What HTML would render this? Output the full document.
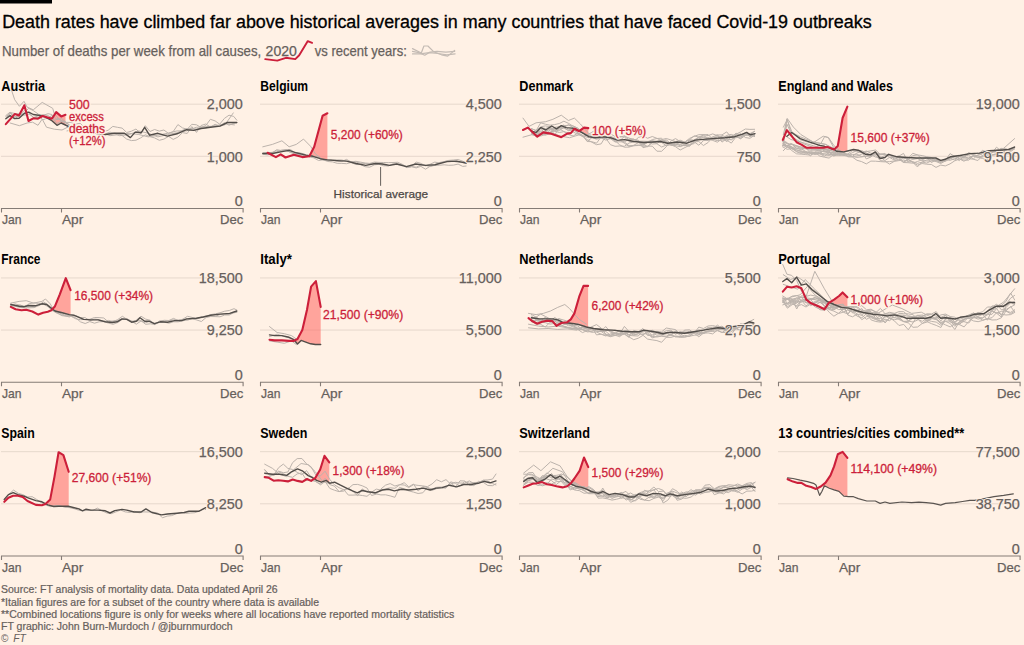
<!DOCTYPE html>
<html><head><meta charset="utf-8"><style>
html,body{margin:0;padding:0;background:#FFF1E5;}
svg{display:block;font-family:"Liberation Sans",sans-serif;}
</style></head><body>
<svg width="1024" height="645" viewBox="0 0 1024 645">
<rect width="1024" height="645" fill="#FFF1E5"/>
<rect x="0" y="0" width="52" height="3.5" fill="#000"/>
<text x="2.2" y="27.5" font-size="17.6" fill="#000000" textLength="869.4" lengthAdjust="spacingAndGlyphs" stroke="#000000" stroke-width="0.3">Death rates have climbed far above historical averages in many countries that have faced Covid-19 outbreaks</text>
<text x="2.0" y="55.9" font-size="14.5" fill="#66605c" textLength="259.3" lengthAdjust="spacingAndGlyphs" stroke="#66605c" stroke-width="0.25">Number of deaths per week from all causes,</text>
<text x="265.6" y="55.9" font-size="14.5" fill="#66605c" textLength="31.3" lengthAdjust="spacingAndGlyphs" stroke="#66605c" stroke-width="0.25">2020</text>
<text x="314.8" y="55.9" font-size="14.5" fill="#66605c" textLength="92.0" lengthAdjust="spacingAndGlyphs" stroke="#66605c" stroke-width="0.25">vs recent years:</text>
<polyline points="265.2,59.1 277.3,60.6 285.9,57.8 295.3,59.1 299.2,55.3 307.8,41.1 312.1,42.8" fill="none" stroke="#cc1f3a" stroke-width="1.9" stroke-linejoin="round" stroke-linecap="round"/>
<polyline points="412.5,48.6 421.3,53.0 423.9,46.0 427.9,46.0 433.6,51.7 441.5,54.8 447.7,56.1 454.7,50.4" fill="none" stroke="#c4bbb4" stroke-width="1.2" stroke-linejoin="round" stroke-linecap="round"/>
<polyline points="412.5,51.3 418.7,52.6 424.8,55.2 430.1,52.1 437.1,51.3 445.9,52.1 454.7,51.3" fill="none" stroke="#c4bbb4" stroke-width="1.2" stroke-linejoin="round" stroke-linecap="round"/>
<polyline points="412.5,53.9 420.4,53.9 429.2,52.6 438.0,53.5 446.8,54.8 455.1,53.9" fill="none" stroke="#c4bbb4" stroke-width="1.2" stroke-linejoin="round" stroke-linecap="round"/>
<text x="1.3" y="90.5" font-size="13.9" font-weight="700" fill="#000000" textLength="43.9" lengthAdjust="spacingAndGlyphs">Austria</text>
<line x1="1" y1="104.19999999999999" x2="243" y2="104.19999999999999" stroke="#e6d8cc" stroke-width="1"/>
<line x1="1" y1="156.29999999999998" x2="243" y2="156.29999999999998" stroke="#e6d8cc" stroke-width="1"/>
<polygon points="52.5,117.9 56.2,112.1 61.2,116.4 65.5,114.8 65.5,125.0 61.2,123.0 56.2,124.6 52.5,121.2" fill="#ff6c68" fill-opacity="0.58"/>
<polyline points="5.8,118.9 10.5,112.6 15.1,113.5 19.8,113.9 24.4,115.2 29.1,114.1 33.7,117.5 38.4,115.7 43.0,119.8 47.7,117.8 52.3,115.4 57.0,119.6 61.6,118.5 66.3,122.4 70.9,122.4 75.6,124.1 80.2,123.3 84.9,127.8 89.5,125.5 94.2,129.0 98.8,130.6 103.5,131.6 108.1,130.3 112.8,126.4 117.4,127.3 122.1,128.1 126.7,132.5 131.4,131.2 136.0,129.0 140.7,133.6 145.3,125.7 150.0,131.5 154.6,129.5 159.3,131.1 163.9,130.0 168.6,133.5 173.2,131.6 177.9,124.6 182.5,127.9 187.2,129.3 191.8,124.3 196.5,124.8 201.1,127.6 205.8,125.5 210.4,119.3 215.1,120.9 219.7,124.2 224.4,118.4 229.0,115.2 233.7,116.4 236.8,120.2" fill="none" stroke="#bcb3ac" stroke-width="1.0" stroke-linejoin="round" stroke-linecap="round"/>
<polyline points="5.8,116.6 10.5,113.5 15.1,118.8 19.8,114.9 24.4,110.4 29.1,112.8 33.7,117.6 38.4,117.4 43.0,114.7 47.7,115.5 52.3,118.2 57.0,123.5 61.6,121.1 66.3,122.8 70.9,126.5 75.6,128.6 80.2,130.1 84.9,128.8 89.5,133.3 94.2,132.1 98.8,135.2 103.5,133.4 108.1,134.0 112.8,132.8 117.4,133.8 122.1,135.5 126.7,139.1 131.4,140.6 136.0,140.2 140.7,137.9 145.3,134.8 150.0,136.7 154.6,137.9 159.3,140.3 163.9,139.1 168.6,136.4 173.2,139.4 177.9,137.1 182.5,132.6 187.2,133.5 191.8,126.6 196.5,132.4 201.1,125.5 205.8,124.0 210.4,127.1 215.1,124.3 219.7,126.1 224.4,122.7 229.0,125.2 233.7,123.4 236.8,122.8" fill="none" stroke="#bcb3ac" stroke-width="1.0" stroke-linejoin="round" stroke-linecap="round"/>
<polyline points="11.6,90.4 14.7,99.7 19.4,106.3 24.0,101.3 27.1,107.1 33.3,109.8 42.2,102.4 52.7,108.3 54.3,113.7 58.9,119.1 63.6,121.4 69.8,125.3" fill="none" stroke="#bcb3ac" stroke-width="1.0" stroke-linejoin="round" stroke-linecap="round"/>
<polyline points="10.1,123.0 19.4,125.7 27.1,123.0 32.6,122.2 38.0,125.3 42.2,119.1 46.5,127.2 54.3,129.2 62.0,130.0 68.2,126.9" fill="none" stroke="#bcb3ac" stroke-width="1.0" stroke-linejoin="round" stroke-linecap="round"/>
<polyline points="5.8,115.6 10.1,112.1 14.3,116.8 19.0,116.0 24.0,112.9 28.7,108.3 33.3,110.6 38.8,114.5 43.4,115.2 48.1,113.7 51.9,114.5 54.3,120.7 58.1,118.3 62.0,121.4 68.2,123.8" fill="none" stroke="#bcb3ac" stroke-width="1.0" stroke-linejoin="round" stroke-linecap="round"/>
<polyline points="67.0,127.3 78.9,130.9 90.9,129.7 100.5,135.7 110.0,132.1 119.6,135.7 129.2,134.5 138.8,130.9 148.3,133.3 157.9,136.9 167.5,134.5 177.0,132.8 186.6,128.5 196.2,129.0 205.7,128.0 215.3,125.6 224.9,124.9 233.3,112.9" fill="none" stroke="#bcb3ac" stroke-width="1.0" stroke-linejoin="round" stroke-linecap="round"/>
<polyline points="67.0,130.9 78.9,128.5 90.9,133.3 100.5,132.1 110.0,135.7 119.6,134.5 129.2,133.3 138.8,134.5 148.3,136.9 157.9,135.2 167.5,133.3 177.0,130.9 186.6,130.9 196.2,127.3 205.7,126.6 215.3,126.1 224.9,123.7 234.4,124.9" fill="none" stroke="#bcb3ac" stroke-width="1.0" stroke-linejoin="round" stroke-linecap="round"/>
<polyline points="5.8,118.7 10.1,115.6 14.3,118.5 19.0,118.3 24.0,113.7 28.7,112.1 33.3,114.5 38.4,115.2 45.0,116.8 51.9,120.7 57.0,125.3 61.2,123.0 68.6,126.5 81.3,128.5 95.7,133.3 105.3,134.5 114.8,133.3 124.4,133.3 130.4,137.6 135.2,132.1 141.1,132.8 144.7,127.3 149.5,135.2 157.9,133.3 167.5,136.1 177.0,133.8 186.6,129.7 193.8,130.4 201.0,128.5 210.5,127.3 220.1,126.1 227.3,122.5 236.8,122.5" fill="none" stroke="#524d49" stroke-width="1.4" stroke-linejoin="round" stroke-linecap="round"/>
<polyline points="5.8,124.1 14.7,114.1 19.0,115.6 24.4,105.3 28.5,121.0 33.3,118.3 38.0,118.7 42.6,116.0 51.9,118.7 56.2,112.1 61.2,116.4 65.5,114.8" fill="none" stroke="#cc1f3a" stroke-width="2.1" stroke-linejoin="round" stroke-linecap="round"/>
<path d="M1.5,212.45 V208.45 H243.1 V212.45 M61.5,208.45 V212.45" fill="none" stroke="#857c76" stroke-width="1.1"/>
<text x="242.7" y="109.4" font-size="14.4" text-anchor="end" fill="#FFF1E5" stroke="#FFF1E5" stroke-width="1.8" stroke-linejoin="round">2,000</text>
<text x="242.7" y="109.4" font-size="14.4" text-anchor="end" fill="#66605c" stroke="#66605c" stroke-width="0.25">2,000</text>
<text x="242.7" y="161.5" font-size="14.4" text-anchor="end" fill="#FFF1E5" stroke="#FFF1E5" stroke-width="1.8" stroke-linejoin="round">1,000</text>
<text x="242.7" y="161.5" font-size="14.4" text-anchor="end" fill="#66605c" stroke="#66605c" stroke-width="0.25">1,000</text>
<text x="242.7" y="206.3" font-size="14.4" text-anchor="end" fill="#FFF1E5" stroke="#FFF1E5" stroke-width="1.8" stroke-linejoin="round">0</text>
<text x="242.7" y="206.3" font-size="14.4" text-anchor="end" fill="#66605c" stroke="#66605c" stroke-width="0.25">0</text>
<text x="2.0" y="224.0" font-size="13.3" fill="#66605c" textLength="19.5" lengthAdjust="spacingAndGlyphs" stroke="#66605c" stroke-width="0.25">Jan</text>
<text x="62.0" y="224.0" font-size="13.3" fill="#66605c" textLength="21.3" lengthAdjust="spacingAndGlyphs" stroke="#66605c" stroke-width="0.25">Apr</text>
<text x="243.3" y="224.0" font-size="13.3" text-anchor="end" fill="#66605c" textLength="23.3" lengthAdjust="spacingAndGlyphs" stroke="#66605c" stroke-width="0.25">Dec</text>
<text x="69.0" y="109.1" font-size="12.3" fill="#FFF1E5" stroke="#FFF1E5" stroke-width="3" stroke-linejoin="round" textLength="20.7" lengthAdjust="spacingAndGlyphs">500</text>
<text x="69.0" y="109.1" font-size="12.3" fill="#cc1f3a" textLength="20.7" lengthAdjust="spacingAndGlyphs" stroke="#cc1f3a" stroke-width="0.3">500</text>
<text x="69.0" y="120.9" font-size="12.3" fill="#FFF1E5" stroke="#FFF1E5" stroke-width="3" stroke-linejoin="round" textLength="34.8" lengthAdjust="spacingAndGlyphs">excess</text>
<text x="69.0" y="120.9" font-size="12.3" fill="#cc1f3a" textLength="34.8" lengthAdjust="spacingAndGlyphs" stroke="#cc1f3a" stroke-width="0.3">excess</text>
<text x="69.0" y="132.8" font-size="12.3" fill="#FFF1E5" stroke="#FFF1E5" stroke-width="3" stroke-linejoin="round" textLength="36.0" lengthAdjust="spacingAndGlyphs">deaths</text>
<text x="69.0" y="132.8" font-size="12.3" fill="#cc1f3a" textLength="36.0" lengthAdjust="spacingAndGlyphs" stroke="#cc1f3a" stroke-width="0.3">deaths</text>
<text x="69.0" y="144.6" font-size="12.3" fill="#FFF1E5" stroke="#FFF1E5" stroke-width="3" stroke-linejoin="round" textLength="36.6" lengthAdjust="spacingAndGlyphs">(+12%)</text>
<text x="69.0" y="144.6" font-size="12.3" fill="#cc1f3a" textLength="36.6" lengthAdjust="spacingAndGlyphs" stroke="#cc1f3a" stroke-width="0.3">(+12%)</text>
<text x="260.3" y="90.5" font-size="13.9" font-weight="700" fill="#000000" textLength="47.8" lengthAdjust="spacingAndGlyphs">Belgium</text>
<line x1="260" y1="104.19999999999999" x2="502" y2="104.19999999999999" stroke="#e6d8cc" stroke-width="1"/>
<line x1="260" y1="156.29999999999998" x2="502" y2="156.29999999999998" stroke="#e6d8cc" stroke-width="1"/>
<polygon points="309.4,156.3 309.4,156.3 314.2,146.8 322.6,115.7 327.4,113.3 327.4,159.9 322.6,159.1 314.2,156.7 309.4,155.7 309.4,155.7" fill="#ff6c68" fill-opacity="0.58"/>
<polyline points="262.8,154.3 267.4,154.8 272.1,154.1 276.7,151.9 281.4,150.1 286.0,149.5 290.7,149.6 295.3,153.3 300.0,152.9 304.6,154.1 309.3,156.9 313.9,157.9 318.6,160.5 323.2,159.8 327.9,161.5 332.5,161.9 337.2,163.3 341.8,163.4 346.5,163.7 351.1,162.5 355.8,164.5 360.4,164.6 365.1,166.7 369.7,167.2 374.4,164.8 379.0,164.3 383.7,165.8 388.3,165.8 393.0,164.3 397.6,164.6 402.3,165.0 406.9,166.9 411.6,166.7 416.2,167.9 420.9,166.4 425.5,169.2 430.2,166.2 434.8,165.4 439.5,165.2 444.1,164.8 448.8,165.3 453.4,165.1 458.1,164.1 462.7,166.4 466.1,166.0" fill="none" stroke="#bcb3ac" stroke-width="1.0" stroke-linejoin="round" stroke-linecap="round"/>
<polyline points="262.8,153.5 267.4,153.4 272.1,153.0 276.7,149.7 281.4,150.6 286.0,150.4 290.7,152.4 295.3,154.0 300.0,154.7 304.6,155.2 309.3,155.4 313.9,156.3 318.6,157.2 323.2,159.7 327.9,160.3 332.5,160.3 337.2,161.2 341.8,161.5 346.5,159.4 351.1,161.9 355.8,161.3 360.4,162.1 365.1,163.0 369.7,163.4 374.4,162.1 379.0,162.4 383.7,162.5 388.3,162.6 393.0,162.5 397.6,162.3 402.3,164.3 406.9,166.9 411.6,166.5 416.2,167.2 420.9,165.0 425.5,165.4 430.2,166.5 434.8,164.8 439.5,162.5 444.1,161.6 448.8,160.4 453.4,160.0 458.1,159.5 462.7,161.2 466.1,162.7" fill="none" stroke="#bcb3ac" stroke-width="1.0" stroke-linejoin="round" stroke-linecap="round"/>
<polyline points="262.8,153.0 267.4,152.7 272.1,152.4 276.7,150.7 281.4,151.4 286.0,150.6 290.7,152.3 295.3,154.3 300.0,155.8 304.6,155.8 309.3,155.9 313.9,156.3 318.6,157.5 323.2,160.1 327.9,159.5 332.5,159.9 337.2,159.9 341.8,160.0 346.5,161.2 351.1,161.5 355.8,162.0 360.4,163.2 365.1,163.5 369.7,163.5 374.4,164.5 379.0,162.8 383.7,165.2 388.3,165.9 393.0,163.8 397.6,163.9 402.3,164.8 406.9,167.7 411.6,166.7 416.2,162.0 420.9,163.4 425.5,165.8 430.2,164.2 434.8,162.1 439.5,163.0 444.1,161.8 448.8,160.5 453.4,161.3 458.1,162.3 462.7,162.6 466.1,163.5" fill="none" stroke="#bcb3ac" stroke-width="1.0" stroke-linejoin="round" stroke-linecap="round"/>
<polyline points="262.8,146.8 272.4,144.4 281.9,140.8 289.1,146.8 296.3,144.4 303.5,139.1 310.6,146.3 315.4,153.9 320.2,157.5" fill="none" stroke="#bcb3ac" stroke-width="1.0" stroke-linejoin="round" stroke-linecap="round"/>
<polyline points="262.8,153.5 272.4,153.5 281.9,151.6 289.1,150.4 296.3,152.8 305.8,155.1 313.0,156.3 320.2,158.7 327.4,159.9 336.9,160.6 346.5,161.1 356.1,163.5 365.7,165.4 375.2,163.5 382.4,164.0 389.6,165.4 396.8,164.0 406.3,166.6 415.9,164.0 425.5,165.4 435.0,164.7 447.0,161.6 456.6,161.1 466.1,163.0" fill="none" stroke="#524d49" stroke-width="1.4" stroke-linejoin="round" stroke-linecap="round"/>
<polyline points="267.6,152.8 275.9,157.1 280.7,154.4 285.5,157.5 293.9,154.7 302.3,157.1 309.4,156.3 314.2,146.8 322.6,115.7 327.4,113.3" fill="none" stroke="#cc1f3a" stroke-width="2.1" stroke-linejoin="round" stroke-linecap="round"/>
<path d="M260.5,212.45 V208.45 H502.1 V212.45 M320.5,208.45 V212.45" fill="none" stroke="#857c76" stroke-width="1.1"/>
<text x="501.7" y="109.4" font-size="14.4" text-anchor="end" fill="#FFF1E5" stroke="#FFF1E5" stroke-width="1.8" stroke-linejoin="round">4,500</text>
<text x="501.7" y="109.4" font-size="14.4" text-anchor="end" fill="#66605c" stroke="#66605c" stroke-width="0.25">4,500</text>
<text x="501.7" y="161.5" font-size="14.4" text-anchor="end" fill="#FFF1E5" stroke="#FFF1E5" stroke-width="1.8" stroke-linejoin="round">2,250</text>
<text x="501.7" y="161.5" font-size="14.4" text-anchor="end" fill="#66605c" stroke="#66605c" stroke-width="0.25">2,250</text>
<text x="501.7" y="206.3" font-size="14.4" text-anchor="end" fill="#FFF1E5" stroke="#FFF1E5" stroke-width="1.8" stroke-linejoin="round">0</text>
<text x="501.7" y="206.3" font-size="14.4" text-anchor="end" fill="#66605c" stroke="#66605c" stroke-width="0.25">0</text>
<text x="261.0" y="224.0" font-size="13.3" fill="#66605c" textLength="19.5" lengthAdjust="spacingAndGlyphs" stroke="#66605c" stroke-width="0.25">Jan</text>
<text x="321.0" y="224.0" font-size="13.3" fill="#66605c" textLength="21.3" lengthAdjust="spacingAndGlyphs" stroke="#66605c" stroke-width="0.25">Apr</text>
<text x="502.3" y="224.0" font-size="13.3" text-anchor="end" fill="#66605c" textLength="23.3" lengthAdjust="spacingAndGlyphs" stroke="#66605c" stroke-width="0.25">Dec</text>
<text x="330.8" y="138.6" font-size="12.3" fill="#FFF1E5" stroke="#FFF1E5" stroke-width="3" stroke-linejoin="round" textLength="72.0" lengthAdjust="spacingAndGlyphs">5,200 (+60%)</text>
<text x="330.8" y="138.6" font-size="12.3" fill="#cc1f3a" textLength="72.0" lengthAdjust="spacingAndGlyphs" stroke="#cc1f3a" stroke-width="0.3">5,200 (+60%)</text>
<line x1="380.6" y1="167" x2="380.6" y2="185.8" stroke="#66605c" stroke-width="1"/>
<text x="333.6" y="198.1" font-size="11.4" fill="#4d4845" textLength="94.5" lengthAdjust="spacingAndGlyphs" stroke="#4d4845" stroke-width="0.25">Historical average</text>
<text x="519.3" y="90.5" font-size="13.9" font-weight="700" fill="#000000" textLength="54.0" lengthAdjust="spacingAndGlyphs">Denmark</text>
<line x1="519" y1="104.19999999999999" x2="761" y2="104.19999999999999" stroke="#e6d8cc" stroke-width="1"/>
<line x1="519" y1="156.29999999999998" x2="761" y2="156.29999999999998" stroke="#e6d8cc" stroke-width="1"/>
<polygon points="575.6,129.4 579.2,131.2 584.0,127.6 588.3,128.1 588.3,136.4 584.0,133.9 579.2,131.0 575.6,128.8" fill="#ff6c68" fill-opacity="0.58"/>
<polyline points="531.4,128.8 536.0,130.3 540.7,127.3 545.3,128.5 550.0,127.1 554.6,135.4 559.3,127.2 563.9,127.8 568.6,130.4 573.2,127.7 577.9,133.0 582.5,135.4 587.2,141.5 591.8,141.7 596.5,143.2 601.1,137.0 605.8,138.6 610.4,136.4 615.1,138.2 619.7,141.0 624.4,136.3 629.0,139.7 633.7,139.3 638.3,141.9 643.0,145.6 647.6,142.3 652.3,144.0 656.9,143.7 661.6,147.0 666.2,145.1 670.9,144.8 675.5,146.7 680.2,150.0 684.8,147.6 689.5,145.3 694.1,140.0 698.8,139.1 703.4,135.1 708.1,139.1 712.7,140.4 717.4,142.2 722.0,138.8 726.7,139.8 731.3,139.5 736.0,134.7 740.6,134.7 745.3,135.5 749.9,134.7 754.6,131.4" fill="none" stroke="#bcb3ac" stroke-width="1.0" stroke-linejoin="round" stroke-linecap="round"/>
<polyline points="531.4,134.2 536.0,132.5 540.7,126.8 545.3,125.9 550.0,126.6 554.6,130.8 559.3,127.9 563.9,124.9 568.6,129.4 573.2,129.3 577.9,130.4 582.5,133.1 587.2,134.6 591.8,137.7 596.5,139.2 601.1,138.0 605.8,140.1 610.4,138.6 615.1,142.0 619.7,141.8 624.4,141.9 629.0,139.2 633.7,139.2 638.3,141.3 643.0,141.2 647.6,141.4 652.3,140.8 656.9,143.6 661.6,140.1 666.2,141.8 670.9,144.8 675.5,144.1 680.2,144.4 684.8,145.8 689.5,140.4 694.1,141.8 698.8,137.3 703.4,140.4 708.1,140.5 712.7,138.8 717.4,140.6 722.0,140.0 726.7,140.1 731.3,143.1 736.0,136.9 740.6,136.9 745.3,134.4 749.9,133.6 754.6,131.3" fill="none" stroke="#bcb3ac" stroke-width="1.0" stroke-linejoin="round" stroke-linecap="round"/>
<polyline points="531.4,132.9 536.0,135.2 540.7,134.0 545.3,135.2 550.0,133.5 554.6,127.4 559.3,126.7 563.9,125.6 568.6,125.3 573.2,125.9 577.9,128.2 582.5,132.5 587.2,135.0 591.8,134.9 596.5,137.1 601.1,135.7 605.8,136.0 610.4,133.8 615.1,136.5 619.7,137.3 624.4,135.8 629.0,138.1 633.7,139.4 638.3,140.2 643.0,147.7 647.6,146.5 652.3,142.5 656.9,141.7 661.6,139.6 666.2,138.5 670.9,139.9 675.5,141.6 680.2,140.2 684.8,142.1 689.5,138.4 694.1,136.4 698.8,134.7 703.4,134.6 708.1,135.6 712.7,133.9 717.4,135.7 722.0,137.8 726.7,136.4 731.3,137.6 736.0,133.2 740.6,135.1 745.3,132.8 749.9,134.4 754.6,136.5" fill="none" stroke="#bcb3ac" stroke-width="1.0" stroke-linejoin="round" stroke-linecap="round"/>
<polyline points="531.4,130.2 536.0,133.6 540.7,130.9 545.3,131.9 550.0,128.0 554.6,129.3 559.3,128.9 563.9,131.5 568.6,134.6 573.2,135.9 577.9,133.2 582.5,136.6 587.2,134.9 591.8,136.7 596.5,133.0 601.1,130.7 605.8,131.9 610.4,136.1 615.1,141.4 619.7,140.1 624.4,142.0 629.0,145.7 633.7,145.7 638.3,145.5 643.0,144.1 647.6,142.3 652.3,140.6 656.9,141.5 661.6,142.4 666.2,145.7 670.9,144.2 675.5,143.5 680.2,145.8 684.8,145.2 689.5,146.3 694.1,141.8 698.8,145.2 703.4,140.7 708.1,138.9 712.7,136.9 717.4,138.2 722.0,136.2 726.7,141.9 731.3,136.7 736.0,137.7 740.6,137.0 745.3,132.8 749.9,136.6 754.6,134.4" fill="none" stroke="#bcb3ac" stroke-width="1.0" stroke-linejoin="round" stroke-linecap="round"/>
<polyline points="531.4,132.2 536.0,134.8 540.7,133.0 545.3,131.6 550.0,129.0 554.6,130.9 559.3,130.7 563.9,127.4 568.6,124.6 573.2,127.9 577.9,131.2 582.5,132.5 587.2,135.1 591.8,136.7 596.5,136.2 601.1,137.3 605.8,133.9 610.4,137.7 615.1,139.9 619.7,139.9 624.4,143.3 629.0,146.5 633.7,145.3 638.3,142.7 643.0,143.9 647.6,142.3 652.3,139.6 656.9,138.5 661.6,138.2 666.2,143.6 670.9,144.9 675.5,145.7 680.2,146.7 684.8,144.9 689.5,144.7 694.1,143.6 698.8,138.6 703.4,137.4 708.1,139.0 712.7,139.8 717.4,135.0 722.0,134.9 726.7,131.9 731.3,137.4 736.0,136.4 740.6,138.6 745.3,133.9 749.9,136.2 754.6,135.2" fill="none" stroke="#bcb3ac" stroke-width="1.0" stroke-linejoin="round" stroke-linecap="round"/>
<polyline points="531.4,128.5 536.0,130.8 540.7,122.8 545.3,124.2 550.0,125.2 554.6,124.6 559.3,123.5 563.9,121.2 568.6,123.4 573.2,126.3 577.9,128.4 582.5,133.1 587.2,134.8 591.8,132.4 596.5,129.2 601.1,133.6 605.8,133.0 610.4,138.6 615.1,139.2 619.7,136.4 624.4,137.1 629.0,141.3 633.7,141.8 638.3,137.5 643.0,135.8 647.6,138.3 652.3,136.5 656.9,138.3 661.6,140.9 666.2,139.8 670.9,143.6 675.5,145.4 680.2,141.4 684.8,142.2 689.5,139.8 694.1,140.1 698.8,136.9 703.4,136.9 708.1,137.4 712.7,139.3 717.4,140.3 722.0,135.4 726.7,137.3 731.3,136.0 736.0,134.2 740.6,131.9 745.3,129.0 749.9,129.4 754.6,129.3" fill="none" stroke="#bcb3ac" stroke-width="1.0" stroke-linejoin="round" stroke-linecap="round"/>
<polyline points="531.4,133.8 536.0,136.3 540.7,131.6 545.3,134.1 550.0,132.0 554.6,131.2 559.3,132.5 563.9,131.6 568.6,133.0 573.2,132.0 577.9,134.3 582.5,136.2 587.2,139.6 591.8,142.2 596.5,144.7 601.1,143.9 605.8,136.1 610.4,138.6 615.1,140.6 619.7,144.9 624.4,147.2 629.0,147.1 633.7,145.7 638.3,145.0 643.0,146.3 647.6,146.1 652.3,146.2 656.9,151.2 661.6,151.3 666.2,146.8 670.9,141.1 675.5,138.6 680.2,141.5 684.8,142.0 689.5,139.7 694.1,135.9 698.8,137.1 703.4,135.0 708.1,134.5 712.7,139.2 717.4,136.5 722.0,138.6 726.7,135.4 731.3,134.4 736.0,136.4 740.6,138.8 745.3,135.5 749.9,133.4 754.6,136.5" fill="none" stroke="#bcb3ac" stroke-width="1.0" stroke-linejoin="round" stroke-linecap="round"/>
<polyline points="531.4,130.5 536.0,135.3 540.7,128.2 545.3,133.9 550.0,130.0 554.6,128.9 559.3,128.9 563.9,127.9 568.6,130.7 573.2,129.8 577.9,133.0 582.5,135.2 587.2,141.3 591.8,137.9 596.5,135.9 601.1,138.2 605.8,138.2 610.4,144.7 615.1,146.3 619.7,146.0 624.4,146.3 629.0,143.0 633.7,142.1 638.3,140.9 643.0,144.3 647.6,146.8 652.3,142.1 656.9,141.0 661.6,140.4 666.2,141.0 670.9,145.2 675.5,144.5 680.2,142.2 684.8,145.0 689.5,145.3 694.1,141.9 698.8,141.5 703.4,145.5 708.1,142.5 712.7,137.1 717.4,134.7 722.0,142.1 726.7,138.7 731.3,139.9 736.0,136.8 740.6,133.4 745.3,137.5 749.9,138.3 754.6,135.2" fill="none" stroke="#bcb3ac" stroke-width="1.0" stroke-linejoin="round" stroke-linecap="round"/>
<polyline points="523.0,118.1 529.0,126.4 536.1,122.8 545.7,121.7 552.9,119.3 561.3,115.2 568.4,120.5 574.4,118.1 580.4,124.0 588.8,133.6" fill="none" stroke="#bcb3ac" stroke-width="1.0" stroke-linejoin="round" stroke-linecap="round"/>
<polyline points="523.0,137.2 531.4,134.8 540.9,136.0 550.5,132.4 560.1,136.0 569.6,137.7 579.2,134.8 588.8,137.7" fill="none" stroke="#bcb3ac" stroke-width="1.0" stroke-linejoin="round" stroke-linecap="round"/>
<polyline points="531.4,131.2 536.1,132.4 540.9,127.6 545.7,130.0 551.7,126.0 556.5,128.8 561.3,125.7 566.0,127.6 572.0,128.1 575.6,128.8 581.6,132.4 588.8,136.7 595.9,137.7 603.1,136.7 610.3,137.7 617.5,140.1 624.7,139.6 634.2,141.5 643.8,142.5 653.4,142.0 660.5,141.5 667.7,143.2 677.3,142.0 686.9,143.2 695.2,140.1 706.0,139.1 715.6,138.4 725.1,137.7 734.7,136.7 741.9,134.3 746.7,132.4 750.3,134.8 755.0,133.6" fill="none" stroke="#524d49" stroke-width="1.4" stroke-linejoin="round" stroke-linecap="round"/>
<polyline points="523.0,130.0 527.8,127.6 537.3,136.7 543.3,132.4 550.5,133.6 561.3,137.2 567.2,133.6 570.8,133.1 574.4,128.8 579.2,131.2 584.0,127.6 588.3,128.1" fill="none" stroke="#cc1f3a" stroke-width="2.1" stroke-linejoin="round" stroke-linecap="round"/>
<path d="M519.5,212.45 V208.45 H761.1 V212.45 M579.5,208.45 V212.45" fill="none" stroke="#857c76" stroke-width="1.1"/>
<text x="760.7" y="109.4" font-size="14.4" text-anchor="end" fill="#FFF1E5" stroke="#FFF1E5" stroke-width="1.8" stroke-linejoin="round">1,500</text>
<text x="760.7" y="109.4" font-size="14.4" text-anchor="end" fill="#66605c" stroke="#66605c" stroke-width="0.25">1,500</text>
<text x="760.7" y="161.5" font-size="14.4" text-anchor="end" fill="#FFF1E5" stroke="#FFF1E5" stroke-width="1.8" stroke-linejoin="round">750</text>
<text x="760.7" y="161.5" font-size="14.4" text-anchor="end" fill="#66605c" stroke="#66605c" stroke-width="0.25">750</text>
<text x="760.7" y="206.3" font-size="14.4" text-anchor="end" fill="#FFF1E5" stroke="#FFF1E5" stroke-width="1.8" stroke-linejoin="round">0</text>
<text x="760.7" y="206.3" font-size="14.4" text-anchor="end" fill="#66605c" stroke="#66605c" stroke-width="0.25">0</text>
<text x="520.0" y="224.0" font-size="13.3" fill="#66605c" textLength="19.5" lengthAdjust="spacingAndGlyphs" stroke="#66605c" stroke-width="0.25">Jan</text>
<text x="580.0" y="224.0" font-size="13.3" fill="#66605c" textLength="21.3" lengthAdjust="spacingAndGlyphs" stroke="#66605c" stroke-width="0.25">Apr</text>
<text x="761.3" y="224.0" font-size="13.3" text-anchor="end" fill="#66605c" textLength="23.3" lengthAdjust="spacingAndGlyphs" stroke="#66605c" stroke-width="0.25">Dec</text>
<text x="591.9" y="135.3" font-size="12.3" fill="#FFF1E5" stroke="#FFF1E5" stroke-width="3" stroke-linejoin="round" textLength="54.3" lengthAdjust="spacingAndGlyphs">100 (+5%)</text>
<text x="591.9" y="135.3" font-size="12.3" fill="#cc1f3a" textLength="54.3" lengthAdjust="spacingAndGlyphs" stroke="#cc1f3a" stroke-width="0.3">100 (+5%)</text>
<text x="778.3" y="90.5" font-size="13.9" font-weight="700" fill="#000000" textLength="114.6" lengthAdjust="spacingAndGlyphs">England and Wales</text>
<line x1="778" y1="104.19999999999999" x2="1020" y2="104.19999999999999" stroke="#e6d8cc" stroke-width="1"/>
<line x1="778" y1="156.29999999999998" x2="1020" y2="156.29999999999998" stroke="#e6d8cc" stroke-width="1"/>
<polygon points="836.5,147.1 837.8,145.9 842.6,118.0 847.4,106.6 847.4,151.0 842.6,151.8 837.8,151.3 836.5,151.2" fill="#ff6c68" fill-opacity="0.58"/>
<polyline points="782.6,143.8 787.2,145.6 791.9,143.9 796.5,148.6 801.2,148.8 805.8,151.5 810.5,153.5 815.1,153.8 819.8,153.6 824.4,150.0 829.1,149.8 833.7,149.2 838.4,153.1 843.0,154.6 847.7,154.1 852.3,156.6 857.0,155.9 861.6,154.3 866.3,151.6 870.9,150.9 875.6,150.0 880.2,154.3 884.9,153.5 889.5,157.6 894.2,157.2 898.8,156.2 903.5,153.4 908.1,161.9 912.8,161.6 917.4,163.4 922.1,162.1 926.7,160.0 931.4,159.5 936.0,160.8 940.7,161.0 945.3,158.9 950.0,157.5 954.6,157.8 959.3,160.6 963.9,156.2 968.6,155.1 973.2,159.2 977.9,160.5 982.5,155.7 987.2,154.2 991.8,155.1 996.5,154.6 1001.1,152.6 1005.8,153.7 1010.4,154.5 1014.6,155.7" fill="none" stroke="#bcb3ac" stroke-width="1.0" stroke-linejoin="round" stroke-linecap="round"/>
<polyline points="782.6,145.1 787.2,147.4 791.9,147.1 796.5,149.9 801.2,151.5 805.8,152.7 810.5,153.3 815.1,154.5 819.8,153.6 824.4,154.9 829.1,155.4 833.7,154.3 838.4,152.1 843.0,152.6 847.7,154.9 852.3,154.6 857.0,154.1 861.6,156.6 866.3,156.1 870.9,156.3 875.6,151.8 880.2,156.6 884.9,160.6 889.5,157.4 894.2,160.0 898.8,160.1 903.5,157.9 908.1,159.0 912.8,162.3 917.4,166.9 922.1,162.0 926.7,163.1 931.4,160.8 936.0,161.5 940.7,163.5 945.3,161.0 950.0,153.6 954.6,156.3 959.3,155.1 963.9,157.3 968.6,152.5 973.2,154.4 977.9,153.0 982.5,155.5 987.2,151.7 991.8,152.1 996.5,151.8 1001.1,152.6 1005.8,150.0 1010.4,149.0 1014.6,146.6" fill="none" stroke="#bcb3ac" stroke-width="1.0" stroke-linejoin="round" stroke-linecap="round"/>
<polyline points="782.6,146.8 787.2,149.3 791.9,148.6 796.5,151.7 801.2,152.3 805.8,153.5 810.5,151.6 815.1,152.4 819.8,156.1 824.4,157.2 829.1,158.1 833.7,154.3 838.4,155.4 843.0,155.1 847.7,154.5 852.3,156.5 857.0,157.4 861.6,156.9 866.3,156.2 870.9,154.4 875.6,157.1 880.2,157.6 884.9,155.6 889.5,154.2 894.2,159.3 898.8,157.6 903.5,161.9 908.1,159.5 912.8,162.3 917.4,165.1 922.1,163.5 926.7,164.2 931.4,164.5 936.0,167.4 940.7,165.1 945.3,165.9 950.0,163.9 954.6,160.9 959.3,159.1 963.9,160.0 968.6,160.2 973.2,156.1 977.9,157.2 982.5,158.5 987.2,160.1 991.8,155.0 996.5,153.6 1001.1,151.0 1005.8,153.2 1010.4,150.2 1014.6,146.6" fill="none" stroke="#bcb3ac" stroke-width="1.0" stroke-linejoin="round" stroke-linecap="round"/>
<polyline points="782.6,140.2 787.2,142.7 791.9,147.4 796.5,146.7 801.2,148.4 805.8,148.8 810.5,150.4 815.1,149.9 819.8,149.5 824.4,148.9 829.1,151.1 833.7,156.0 838.4,154.4 843.0,155.2 847.7,156.2 852.3,156.4 857.0,152.9 861.6,151.7 866.3,158.9 870.9,157.0 875.6,153.0 880.2,153.8 884.9,154.4 889.5,154.5 894.2,158.3 898.8,157.0 903.5,162.3 908.1,159.4 912.8,155.7 917.4,154.9 922.1,155.6 926.7,156.7 931.4,157.5 936.0,160.3 940.7,162.1 945.3,159.6 950.0,159.1 954.6,156.1 959.3,158.8 963.9,161.2 968.6,158.8 973.2,159.1 977.9,154.8 982.5,150.4 987.2,152.1 991.8,155.3 996.5,154.1 1001.1,150.5 1005.8,153.1 1010.4,154.2 1014.6,152.0" fill="none" stroke="#bcb3ac" stroke-width="1.0" stroke-linejoin="round" stroke-linecap="round"/>
<polyline points="782.6,145.5 787.2,145.6 791.9,147.0 796.5,151.7 801.2,153.5 805.8,152.0 810.5,155.8 815.1,152.1 819.8,151.9 824.4,151.2 829.1,151.8 833.7,153.3 838.4,151.1 843.0,151.7 847.7,156.8 852.3,157.0 857.0,160.3 861.6,161.6 866.3,163.9 870.9,161.1 875.6,161.2 880.2,161.6 884.9,161.9 889.5,161.6 894.2,161.0 898.8,159.1 903.5,162.5 908.1,162.7 912.8,163.2 917.4,161.5 922.1,159.8 926.7,157.8 931.4,162.6 936.0,159.8 940.7,160.7 945.3,161.4 950.0,158.6 954.6,156.6 959.3,158.1 963.9,158.0 968.6,158.3 973.2,155.4 977.9,157.8 982.5,156.9 987.2,156.0 991.8,153.4 996.5,147.2 1001.1,150.9 1005.8,153.0 1010.4,150.3 1014.6,147.6" fill="none" stroke="#bcb3ac" stroke-width="1.0" stroke-linejoin="round" stroke-linecap="round"/>
<polyline points="782.6,141.7 787.2,143.5 791.9,148.7 796.5,148.0 801.2,149.9 805.8,147.7 810.5,153.4 815.1,153.3 819.8,153.8 824.4,156.3 829.1,152.6 833.7,155.8 838.4,153.4 843.0,153.3 847.7,154.0 852.3,150.7 857.0,151.2 861.6,152.8 866.3,151.0 870.9,153.2 875.6,154.3 880.2,154.7 884.9,154.4 889.5,155.6 894.2,156.9 898.8,156.1 903.5,158.6 908.1,158.3 912.8,153.3 917.4,154.9 922.1,158.9 926.7,157.5 931.4,159.7 936.0,160.4 940.7,162.6 945.3,159.6 950.0,158.3 954.6,160.0 959.3,156.5 963.9,156.9 968.6,158.0 973.2,156.1 977.9,155.4 982.5,153.6 987.2,152.7 991.8,150.8 996.5,150.8 1001.1,149.5 1005.8,152.9 1010.4,151.7 1014.6,148.9" fill="none" stroke="#bcb3ac" stroke-width="1.0" stroke-linejoin="round" stroke-linecap="round"/>
<polyline points="782.6,140.8 787.2,146.6 791.9,150.6 796.5,153.8 801.2,154.2 805.8,154.6 810.5,155.1 815.1,151.9 819.8,152.8 824.4,150.2 829.1,154.6 833.7,154.3 838.4,153.6 843.0,154.9 847.7,155.1 852.3,152.7 857.0,150.6 861.6,150.6 866.3,152.9 870.9,155.3 875.6,155.1 880.2,160.6 884.9,161.1 889.5,164.1 894.2,161.4 898.8,160.6 903.5,160.1 908.1,161.2 912.8,159.4 917.4,158.6 922.1,160.5 926.7,161.0 931.4,161.1 936.0,159.1 940.7,161.7 945.3,159.7 950.0,160.3 954.6,158.8 959.3,156.5 963.9,157.7 968.6,153.6 973.2,154.5 977.9,156.1 982.5,157.0 987.2,152.3 991.8,152.2 996.5,151.4 1001.1,148.4 1005.8,148.7 1010.4,150.4 1014.6,148.8" fill="none" stroke="#bcb3ac" stroke-width="1.0" stroke-linejoin="round" stroke-linecap="round"/>
<polyline points="783.3,145.9 786.9,119.2 791.7,131.3 800.2,139.8 812.3,143.4 823.2,136.2 828.1,137.4 834.1,148.3 841.4,153.1 848.7,150.7" fill="none" stroke="#bcb3ac" stroke-width="1.0" stroke-linejoin="round" stroke-linecap="round"/>
<polyline points="783.3,142.2 786.9,124.1 793.0,137.4 802.6,143.4 812.3,147.1 824.4,149.5 834.1,151.2" fill="none" stroke="#bcb3ac" stroke-width="1.0" stroke-linejoin="round" stroke-linecap="round"/>
<polyline points="783.3,150.7 790.5,143.4 800.2,147.1 812.3,149.5 824.4,151.9 834.1,153.1" fill="none" stroke="#bcb3ac" stroke-width="1.0" stroke-linejoin="round" stroke-linecap="round"/>
<polyline points="994.0,150.7 1003.7,148.3 1014.6,138.6" fill="none" stroke="#bcb3ac" stroke-width="1.0" stroke-linejoin="round" stroke-linecap="round"/>
<polyline points="783.4,127.1 787.2,119.6 790.9,132.0 800.8,137.0 813.2,142.0 825.6,144.4 835.6,149.4" fill="none" stroke="#bcb3ac" stroke-width="1.0" stroke-linejoin="round" stroke-linecap="round"/>
<polyline points="783.4,134.5 790.9,139.5 800.8,142.0 813.2,145.7 825.6,149.4 835.6,151.9" fill="none" stroke="#bcb3ac" stroke-width="1.0" stroke-linejoin="round" stroke-linecap="round"/>
<polyline points="783.4,142.0 790.9,144.4 800.8,146.9 813.2,148.9 825.6,151.9 838.0,153.1" fill="none" stroke="#bcb3ac" stroke-width="1.0" stroke-linejoin="round" stroke-linecap="round"/>
<polyline points="783.4,144.4 793.4,149.4 805.8,151.9 818.2,153.1 830.6,154.4 840.5,154.9" fill="none" stroke="#bcb3ac" stroke-width="1.0" stroke-linejoin="round" stroke-linecap="round"/>
<polyline points="783.4,134.5 787.2,118.4 793.4,127.1 800.8,134.5 813.2,142.0 825.6,144.4 835.6,149.9" fill="none" stroke="#bcb3ac" stroke-width="1.0" stroke-linejoin="round" stroke-linecap="round"/>
<polyline points="815.5,147.7 820.8,143.7 824.7,136.5 828.7,137.8 834.0,145.7 839.2,150.3 844.5,153.0" fill="none" stroke="#bcb3ac" stroke-width="1.0" stroke-linejoin="round" stroke-linecap="round"/>
<polyline points="786.9,136.2 791.7,132.5 800.2,138.6 809.9,142.2 819.6,145.4 824.4,146.3 834.1,149.5 836.5,151.2 843.8,151.9 853.5,149.5 858.3,150.2 865.6,154.3 870.5,154.8 875.3,151.9 880.1,158.5 885.0,157.5 888.6,154.3 897.1,156.8 906.8,157.5 916.5,158.0 926.2,158.0 935.8,158.0 940.7,160.4 945.5,159.2 950.4,156.8 960.1,155.5 969.8,153.6 979.4,153.1 989.1,150.7 998.8,150.2 1008.5,149.5 1014.6,147.1" fill="none" stroke="#524d49" stroke-width="1.4" stroke-linejoin="round" stroke-linecap="round"/>
<polyline points="782.8,139.8 786.9,130.1 791.7,136.2 796.6,142.2 801.4,144.6 806.3,147.6 814.8,147.8 823.2,147.8 828.1,147.1 834.1,149.5 837.8,145.9 842.6,118.0 847.4,106.6" fill="none" stroke="#cc1f3a" stroke-width="2.1" stroke-linejoin="round" stroke-linecap="round"/>
<path d="M778.5,212.45 V208.45 H1020.1 V212.45 M838.5,208.45 V212.45" fill="none" stroke="#857c76" stroke-width="1.1"/>
<text x="1019.7" y="109.4" font-size="14.4" text-anchor="end" fill="#FFF1E5" stroke="#FFF1E5" stroke-width="1.8" stroke-linejoin="round">19,000</text>
<text x="1019.7" y="109.4" font-size="14.4" text-anchor="end" fill="#66605c" stroke="#66605c" stroke-width="0.25">19,000</text>
<text x="1019.7" y="161.5" font-size="14.4" text-anchor="end" fill="#FFF1E5" stroke="#FFF1E5" stroke-width="1.8" stroke-linejoin="round">9,500</text>
<text x="1019.7" y="161.5" font-size="14.4" text-anchor="end" fill="#66605c" stroke="#66605c" stroke-width="0.25">9,500</text>
<text x="1019.7" y="206.3" font-size="14.4" text-anchor="end" fill="#FFF1E5" stroke="#FFF1E5" stroke-width="1.8" stroke-linejoin="round">0</text>
<text x="1019.7" y="206.3" font-size="14.4" text-anchor="end" fill="#66605c" stroke="#66605c" stroke-width="0.25">0</text>
<text x="779.0" y="224.0" font-size="13.3" fill="#66605c" textLength="19.5" lengthAdjust="spacingAndGlyphs" stroke="#66605c" stroke-width="0.25">Jan</text>
<text x="839.0" y="224.0" font-size="13.3" fill="#66605c" textLength="21.3" lengthAdjust="spacingAndGlyphs" stroke="#66605c" stroke-width="0.25">Apr</text>
<text x="1020.3" y="224.0" font-size="13.3" text-anchor="end" fill="#66605c" textLength="23.3" lengthAdjust="spacingAndGlyphs" stroke="#66605c" stroke-width="0.25">Dec</text>
<text x="850.6" y="141.5" font-size="12.3" fill="#FFF1E5" stroke="#FFF1E5" stroke-width="3" stroke-linejoin="round" textLength="79.2" lengthAdjust="spacingAndGlyphs">15,600 (+37%)</text>
<text x="850.6" y="141.5" font-size="12.3" fill="#cc1f3a" textLength="79.2" lengthAdjust="spacingAndGlyphs" stroke="#cc1f3a" stroke-width="0.3">15,600 (+37%)</text>
<text x="1.3" y="264.3" font-size="13.9" font-weight="700" fill="#000000" textLength="39.2" lengthAdjust="spacingAndGlyphs">France</text>
<line x1="1" y1="277.95" x2="243" y2="277.95" stroke="#e6d8cc" stroke-width="1"/>
<line x1="1" y1="330.05" x2="243" y2="330.05" stroke="#e6d8cc" stroke-width="1"/>
<polygon points="52.2,309.4 55.0,306.2 59.8,294.3 65.8,278.2 70.6,290.2 70.6,314.8 65.8,313.6 59.8,312.1 55.0,311.0 52.2,308.9" fill="#ff6c68" fill-opacity="0.58"/>
<polyline points="10.8,305.1 15.4,303.9 20.1,305.5 24.7,306.5 29.4,303.6 34.0,302.9 38.7,303.4 43.3,304.1 48.0,306.6 52.6,310.8 57.3,313.1 61.9,315.7 66.6,316.1 71.2,315.9 75.9,318.0 80.5,321.9 85.2,323.5 89.8,321.6 94.5,323.2 99.1,321.8 103.8,321.6 108.4,323.1 113.1,324.3 117.7,322.5 122.4,319.3 127.0,319.4 131.7,321.1 136.3,321.0 141.0,320.6 145.6,324.3 150.3,323.8 154.9,324.4 159.6,322.1 164.2,322.1 168.9,323.2 173.5,321.8 178.2,321.8 182.8,320.8 187.5,319.6 192.1,318.7 196.8,318.7 201.4,316.9 206.1,316.1 210.7,316.1 215.4,316.4 220.0,314.5 224.7,314.1 229.3,314.5 234.0,312.8 236.8,312.3" fill="none" stroke="#bcb3ac" stroke-width="1.0" stroke-linejoin="round" stroke-linecap="round"/>
<polyline points="10.8,304.0 15.4,305.9 20.1,304.9 24.7,306.7 29.4,307.0 34.0,306.3 38.7,305.3 43.3,301.9 48.0,304.7 52.6,310.0 57.3,312.0 61.9,314.1 66.6,315.7 71.2,316.1 75.9,315.7 80.5,317.6 85.2,317.6 89.8,320.8 94.5,319.0 99.1,319.7 103.8,321.6 108.4,320.4 113.1,321.7 117.7,319.6 122.4,316.3 127.0,319.4 131.7,322.2 136.3,320.2 141.0,316.2 145.6,319.1 150.3,320.3 154.9,324.7 159.6,321.2 164.2,320.3 168.9,320.5 173.5,318.4 178.2,320.5 182.8,319.2 187.5,316.3 192.1,317.4 196.8,318.6 201.4,317.3 206.1,316.4 210.7,314.6 215.4,313.8 220.0,312.8 224.7,311.2 229.3,310.5 234.0,308.7 236.8,310.0" fill="none" stroke="#bcb3ac" stroke-width="1.0" stroke-linejoin="round" stroke-linecap="round"/>
<polyline points="10.8,305.7 15.4,306.3 20.1,307.5 24.7,307.9 29.4,307.8 34.0,307.6 38.7,305.7 43.3,303.5 48.0,304.9 52.6,309.0 57.3,311.8 61.9,312.4 66.6,314.7 71.2,316.4 75.9,318.9 80.5,319.7 85.2,319.4 89.8,319.3 94.5,317.5 99.1,317.6 103.8,318.0 108.4,322.0 113.1,320.9 117.7,320.4 122.4,319.1 127.0,318.8 131.7,321.2 136.3,324.2 141.0,321.0 145.6,322.8 150.3,321.1 154.9,323.9 159.6,321.1 164.2,321.3 168.9,320.7 173.5,319.8 178.2,320.0 182.8,319.6 187.5,320.2 192.1,318.6 196.8,320.0 201.4,321.5 206.1,317.5 210.7,316.5 215.4,316.6 220.0,316.8 224.7,315.0 229.3,315.0 234.0,312.0 236.8,312.0" fill="none" stroke="#bcb3ac" stroke-width="1.0" stroke-linejoin="round" stroke-linecap="round"/>
<polyline points="10.8,303.1 19.1,301.4 26.3,300.7 33.5,303.1 41.9,301.4 45.5,299.0 50.2,303.8 55.0,312.2 62.2,315.1 69.4,317.0" fill="none" stroke="#bcb3ac" stroke-width="1.0" stroke-linejoin="round" stroke-linecap="round"/>
<polyline points="10.8,304.5 19.1,306.2 23.9,306.7 28.7,305.5 35.9,305.7 41.9,303.8 46.7,304.5 50.2,307.4 55.0,311.0 62.2,312.7 69.4,314.6 74.2,315.3 83.7,319.4 90.9,319.9 98.1,319.9 105.3,321.8 112.4,322.5 117.2,321.8 122.0,318.9 126.8,319.4 131.6,322.2 136.4,321.3 140.0,317.7 144.7,321.3 149.5,321.3 154.3,323.7 160.3,321.8 167.5,322.2 174.6,320.6 181.8,320.6 186.6,318.9 196.2,318.2 203.3,317.0 210.5,315.3 220.1,314.1 229.7,313.4 236.8,311.0" fill="none" stroke="#524d49" stroke-width="1.4" stroke-linejoin="round" stroke-linecap="round"/>
<polyline points="10.8,306.9 15.6,309.3 21.5,310.3 26.3,309.8 32.3,311.5 38.3,314.6 43.1,312.7 47.8,311.7 51.4,310.3 55.0,306.2 59.8,294.3 65.8,278.2 70.6,290.2" fill="none" stroke="#cc1f3a" stroke-width="2.1" stroke-linejoin="round" stroke-linecap="round"/>
<path d="M1.5,386.2 V382.2 H243.1 V386.2 M61.5,382.2 V386.2" fill="none" stroke="#857c76" stroke-width="1.1"/>
<text x="242.7" y="283.1" font-size="14.4" text-anchor="end" fill="#FFF1E5" stroke="#FFF1E5" stroke-width="1.8" stroke-linejoin="round">18,500</text>
<text x="242.7" y="283.1" font-size="14.4" text-anchor="end" fill="#66605c" stroke="#66605c" stroke-width="0.25">18,500</text>
<text x="242.7" y="335.2" font-size="14.4" text-anchor="end" fill="#FFF1E5" stroke="#FFF1E5" stroke-width="1.8" stroke-linejoin="round">9,250</text>
<text x="242.7" y="335.2" font-size="14.4" text-anchor="end" fill="#66605c" stroke="#66605c" stroke-width="0.25">9,250</text>
<text x="242.7" y="380.1" font-size="14.4" text-anchor="end" fill="#FFF1E5" stroke="#FFF1E5" stroke-width="1.8" stroke-linejoin="round">0</text>
<text x="242.7" y="380.1" font-size="14.4" text-anchor="end" fill="#66605c" stroke="#66605c" stroke-width="0.25">0</text>
<text x="2.0" y="397.8" font-size="13.3" fill="#66605c" textLength="19.5" lengthAdjust="spacingAndGlyphs" stroke="#66605c" stroke-width="0.25">Jan</text>
<text x="62.0" y="397.8" font-size="13.3" fill="#66605c" textLength="21.3" lengthAdjust="spacingAndGlyphs" stroke="#66605c" stroke-width="0.25">Apr</text>
<text x="243.3" y="397.8" font-size="13.3" text-anchor="end" fill="#66605c" textLength="23.3" lengthAdjust="spacingAndGlyphs" stroke="#66605c" stroke-width="0.25">Dec</text>
<text x="74.2" y="299.5" font-size="12.3" fill="#FFF1E5" stroke="#FFF1E5" stroke-width="3" stroke-linejoin="round" textLength="78.9" lengthAdjust="spacingAndGlyphs">16,500 (+34%)</text>
<text x="74.2" y="299.5" font-size="12.3" fill="#cc1f3a" textLength="78.9" lengthAdjust="spacingAndGlyphs" stroke="#cc1f3a" stroke-width="0.3">16,500 (+34%)</text>
<text x="260.3" y="264.3" font-size="13.9" font-weight="700" fill="#000000" textLength="31.6" lengthAdjust="spacingAndGlyphs">Italy*</text>
<line x1="260" y1="277.95" x2="502" y2="277.95" stroke="#e6d8cc" stroke-width="1"/>
<line x1="260" y1="330.05" x2="502" y2="330.05" stroke="#e6d8cc" stroke-width="1"/>
<polygon points="295.8,339.9 297.5,339.0 302.3,330.1 307.0,309.8 311.1,286.6 315.9,281.1 320.7,306.9 320.7,344.5 315.9,344.5 311.1,343.9 307.0,342.5 302.3,340.8 297.5,344.0 295.8,342.0" fill="#ff6c68" fill-opacity="0.58"/>
<polyline points="269.5,326.6 277.1,332.5 284.3,333.7 291.5,335.6 296.3,339.0" fill="none" stroke="#bcb3ac" stroke-width="1.0" stroke-linejoin="round" stroke-linecap="round"/>
<polyline points="269.5,340.9 277.1,342.1 284.3,343.3 291.5,340.9 296.3,344.5" fill="none" stroke="#bcb3ac" stroke-width="1.0" stroke-linejoin="round" stroke-linecap="round"/>
<polyline points="269.5,336.6 277.1,334.2 284.3,336.6 291.5,338.5 296.3,342.1" fill="none" stroke="#bcb3ac" stroke-width="1.0" stroke-linejoin="round" stroke-linecap="round"/>
<polyline points="269.5,334.9 274.7,335.6 281.9,335.6 289.1,337.3 293.9,339.7 297.5,344.0 301.1,340.4 305.8,342.1 310.6,343.8 315.4,344.5 320.7,344.5" fill="none" stroke="#524d49" stroke-width="1.4" stroke-linejoin="round" stroke-linecap="round"/>
<polyline points="269.5,339.7 274.7,340.4 281.9,340.4 289.1,340.9 293.9,340.9 297.5,339.0 302.3,330.1 307.0,309.8 311.1,286.6 315.9,281.1 320.7,306.9" fill="none" stroke="#cc1f3a" stroke-width="2.1" stroke-linejoin="round" stroke-linecap="round"/>
<path d="M260.5,386.2 V382.2 H502.1 V386.2 M320.5,382.2 V386.2" fill="none" stroke="#857c76" stroke-width="1.1"/>
<text x="501.7" y="283.1" font-size="14.4" text-anchor="end" fill="#FFF1E5" stroke="#FFF1E5" stroke-width="1.8" stroke-linejoin="round">11,000</text>
<text x="501.7" y="283.1" font-size="14.4" text-anchor="end" fill="#66605c" stroke="#66605c" stroke-width="0.25">11,000</text>
<text x="501.7" y="335.2" font-size="14.4" text-anchor="end" fill="#FFF1E5" stroke="#FFF1E5" stroke-width="1.8" stroke-linejoin="round">5,500</text>
<text x="501.7" y="335.2" font-size="14.4" text-anchor="end" fill="#66605c" stroke="#66605c" stroke-width="0.25">5,500</text>
<text x="501.7" y="380.1" font-size="14.4" text-anchor="end" fill="#FFF1E5" stroke="#FFF1E5" stroke-width="1.8" stroke-linejoin="round">0</text>
<text x="501.7" y="380.1" font-size="14.4" text-anchor="end" fill="#66605c" stroke="#66605c" stroke-width="0.25">0</text>
<text x="261.0" y="397.8" font-size="13.3" fill="#66605c" textLength="19.5" lengthAdjust="spacingAndGlyphs" stroke="#66605c" stroke-width="0.25">Jan</text>
<text x="321.0" y="397.8" font-size="13.3" fill="#66605c" textLength="21.3" lengthAdjust="spacingAndGlyphs" stroke="#66605c" stroke-width="0.25">Apr</text>
<text x="502.3" y="397.8" font-size="13.3" text-anchor="end" fill="#66605c" textLength="23.3" lengthAdjust="spacingAndGlyphs" stroke="#66605c" stroke-width="0.25">Dec</text>
<text x="323.1" y="318.5" font-size="12.3" fill="#FFF1E5" stroke="#FFF1E5" stroke-width="3" stroke-linejoin="round" textLength="80.1" lengthAdjust="spacingAndGlyphs">21,500 (+90%)</text>
<text x="323.1" y="318.5" font-size="12.3" fill="#cc1f3a" textLength="80.1" lengthAdjust="spacingAndGlyphs" stroke="#cc1f3a" stroke-width="0.3">21,500 (+90%)</text>
<text x="519.3" y="264.3" font-size="13.9" font-weight="700" fill="#000000" textLength="74.2" lengthAdjust="spacingAndGlyphs">Netherlands</text>
<line x1="519" y1="277.95" x2="761" y2="277.95" stroke="#e6d8cc" stroke-width="1"/>
<line x1="519" y1="330.05" x2="761" y2="330.05" stroke="#e6d8cc" stroke-width="1"/>
<polygon points="568.4,321.3 570.8,319.4 574.4,313.4 579.2,296.7 583.5,285.9 588.1,285.9 588.1,327.4 583.5,326.1 579.2,324.6 574.4,323.7 570.8,323.3 568.4,323.0" fill="#ff6c68" fill-opacity="0.58"/>
<polyline points="531.4,319.5 536.0,322.5 540.7,321.1 545.3,320.4 550.0,319.2 554.6,320.4 559.3,321.7 563.9,323.1 568.6,325.8 573.2,325.7 577.9,328.8 582.5,329.5 587.2,331.9 591.8,331.5 596.5,329.0 601.1,328.7 605.8,329.8 610.4,331.3 615.1,330.0 619.7,331.7 624.4,331.5 629.0,334.7 633.7,332.8 638.3,331.7 643.0,328.5 647.6,335.5 652.3,334.9 656.9,332.8 661.6,333.0 666.2,330.8 670.9,330.2 675.5,334.3 680.2,331.5 684.8,333.2 689.5,332.9 694.1,331.8 698.8,334.4 703.4,332.5 708.1,331.0 712.7,329.0 717.4,329.8 722.0,329.2 726.7,330.1 731.3,329.2 736.0,326.7 740.6,327.1 745.3,325.5 749.9,322.1 753.8,326.6" fill="none" stroke="#bcb3ac" stroke-width="1.0" stroke-linejoin="round" stroke-linecap="round"/>
<polyline points="531.4,314.4 536.0,317.1 540.7,319.9 545.3,321.7 550.0,321.1 554.6,323.5 559.3,322.7 563.9,324.1 568.6,323.6 573.2,326.0 577.9,323.5 582.5,326.9 587.2,329.4 591.8,330.0 596.5,330.6 601.1,331.5 605.8,331.4 610.4,335.3 615.1,333.7 619.7,333.2 624.4,334.2 629.0,337.3 633.7,330.4 638.3,331.6 643.0,330.7 647.6,331.0 652.3,332.1 656.9,331.4 661.6,331.9 666.2,328.0 670.9,328.8 675.5,329.6 680.2,333.9 684.8,330.1 689.5,329.8 694.1,333.3 698.8,327.1 703.4,328.5 708.1,326.0 712.7,325.6 717.4,326.7 722.0,328.4 726.7,330.8 731.3,334.7 736.0,328.1 740.6,326.7 745.3,325.7 749.9,321.3 753.8,319.4" fill="none" stroke="#bcb3ac" stroke-width="1.0" stroke-linejoin="round" stroke-linecap="round"/>
<polyline points="531.4,320.3 536.0,320.5 540.7,321.0 545.3,317.4 550.0,320.1 554.6,319.6 559.3,320.4 563.9,324.2 568.6,324.5 573.2,327.2 577.9,327.9 582.5,328.2 587.2,328.1 591.8,327.3 596.5,334.9 601.1,334.2 605.8,336.0 610.4,333.9 615.1,333.2 619.7,334.7 624.4,333.3 629.0,332.3 633.7,334.8 638.3,333.7 643.0,334.7 647.6,332.6 652.3,330.3 656.9,332.3 661.6,334.9 666.2,333.9 670.9,331.3 675.5,332.8 680.2,332.1 684.8,332.3 689.5,331.4 694.1,332.1 698.8,329.7 703.4,330.6 708.1,327.5 712.7,329.3 717.4,328.3 722.0,327.2 726.7,331.8 731.3,329.2 736.0,328.5 740.6,330.4 745.3,327.6 749.9,325.2 753.8,326.5" fill="none" stroke="#bcb3ac" stroke-width="1.0" stroke-linejoin="round" stroke-linecap="round"/>
<polyline points="531.4,321.6 536.0,323.3 540.7,324.4 545.3,326.9 550.0,322.4 554.6,320.9 559.3,324.1 563.9,326.2 568.6,327.7 573.2,328.5 577.9,328.9 582.5,327.1 587.2,328.5 591.8,327.7 596.5,329.3 601.1,330.7 605.8,326.6 610.4,332.2 615.1,333.1 619.7,330.8 624.4,333.6 629.0,336.9 633.7,339.7 638.3,338.2 643.0,335.3 647.6,339.1 652.3,339.9 656.9,340.6 661.6,342.3 666.2,337.3 670.9,337.4 675.5,336.0 680.2,336.5 684.8,336.7 689.5,336.3 694.1,335.2 698.8,334.9 703.4,332.3 708.1,331.0 712.7,331.5 717.4,330.7 722.0,332.4 726.7,332.5 731.3,331.7 736.0,328.8 740.6,326.3 745.3,327.2 749.9,323.0 753.8,327.6" fill="none" stroke="#bcb3ac" stroke-width="1.0" stroke-linejoin="round" stroke-linecap="round"/>
<polyline points="531.4,317.9 536.0,319.0 540.7,319.4 545.3,317.9 550.0,321.6 554.6,317.5 559.3,320.3 563.9,323.7 568.6,324.0 573.2,325.5 577.9,324.9 582.5,325.3 587.2,327.3 591.8,328.8 596.5,328.5 601.1,328.8 605.8,330.1 610.4,330.8 615.1,333.0 619.7,333.7 624.4,330.6 629.0,331.2 633.7,332.9 638.3,332.6 643.0,333.0 647.6,334.3 652.3,336.9 656.9,332.8 661.6,334.3 666.2,333.0 670.9,335.4 675.5,331.6 680.2,335.3 684.8,332.6 689.5,333.7 694.1,332.6 698.8,333.9 703.4,330.3 708.1,328.0 712.7,327.3 717.4,327.2 722.0,326.2 726.7,329.6 731.3,329.0 736.0,327.5 740.6,330.7 745.3,329.0 749.9,325.4 753.8,324.4" fill="none" stroke="#bcb3ac" stroke-width="1.0" stroke-linejoin="round" stroke-linecap="round"/>
<polyline points="531.4,316.0 536.0,319.8 540.7,321.0 545.3,320.2 550.0,320.4 554.6,320.1 559.3,318.8 563.9,320.1 568.6,321.6 573.2,325.7 577.9,326.0 582.5,329.7 587.2,331.1 591.8,328.8 596.5,331.6 601.1,331.4 605.8,334.7 610.4,335.3 615.1,333.8 619.7,335.6 624.4,334.0 629.0,332.3 633.7,333.5 638.3,331.5 643.0,331.6 647.6,330.1 652.3,336.3 656.9,337.0 661.6,336.1 666.2,336.2 670.9,334.3 675.5,336.9 680.2,336.3 684.8,335.3 689.5,336.2 694.1,333.0 698.8,336.8 703.4,333.2 708.1,332.9 712.7,333.9 717.4,330.1 722.0,332.5 726.7,329.6 731.3,329.2 736.0,326.2 740.6,326.8 745.3,324.8 749.9,321.7 753.8,324.6" fill="none" stroke="#bcb3ac" stroke-width="1.0" stroke-linejoin="round" stroke-linecap="round"/>
<polyline points="531.4,320.3 536.0,324.3 540.7,322.0 545.3,322.7 550.0,324.1 554.6,323.4 559.3,325.5 563.9,326.4 568.6,327.7 573.2,328.6 577.9,329.5 582.5,332.6 587.2,330.6 591.8,332.3 596.5,332.0 601.1,334.2 605.8,335.3 610.4,336.7 615.1,335.2 619.7,336.7 624.4,332.4 629.0,335.4 633.7,335.8 638.3,336.0 643.0,330.4 647.6,332.8 652.3,338.0 656.9,336.3 661.6,336.0 666.2,337.0 670.9,334.7 675.5,331.0 680.2,333.4 684.8,331.8 689.5,334.4 694.1,332.7 698.8,331.8 703.4,333.4 708.1,331.4 712.7,330.7 717.4,328.2 722.0,329.1 726.7,331.4 731.3,331.0 736.0,326.9 740.6,323.7 745.3,324.6 749.9,328.1 753.8,330.7" fill="none" stroke="#bcb3ac" stroke-width="1.0" stroke-linejoin="round" stroke-linecap="round"/>
<polyline points="531.4,318.8 536.0,317.1 540.7,314.1 545.3,316.4 550.0,318.9 554.6,321.0 559.3,318.6 563.9,324.2 568.6,323.4 573.2,324.8 577.9,329.8 582.5,327.3 587.2,328.8 591.8,326.7 596.5,324.6 601.1,328.0 605.8,334.1 610.4,336.1 615.1,335.5 619.7,334.2 624.4,326.4 629.0,331.6 633.7,335.3 638.3,333.7 643.0,330.3 647.6,331.0 652.3,332.3 656.9,335.2 661.6,334.3 666.2,332.6 670.9,335.2 675.5,336.6 680.2,337.4 684.8,337.2 689.5,335.9 694.1,332.3 698.8,332.6 703.4,333.5 708.1,331.2 712.7,330.1 717.4,324.9 722.0,329.2 726.7,329.1 731.3,326.2 736.0,328.6 740.6,330.4 745.3,324.4 749.9,324.4 753.8,327.4" fill="none" stroke="#bcb3ac" stroke-width="1.0" stroke-linejoin="round" stroke-linecap="round"/>
<polyline points="528.5,313.4 536.1,314.6 543.3,313.4 550.5,311.0 557.7,307.4 564.8,304.5 569.6,308.6 574.4,314.1 579.2,319.4 586.4,324.2" fill="none" stroke="#bcb3ac" stroke-width="1.0" stroke-linejoin="round" stroke-linecap="round"/>
<polyline points="528.5,324.2 538.5,326.1 548.1,327.0 557.7,326.1 567.2,327.8 576.8,328.9 586.4,330.1" fill="none" stroke="#bcb3ac" stroke-width="1.0" stroke-linejoin="round" stroke-linecap="round"/>
<polyline points="528.5,327.8 538.5,328.9 548.1,328.5 557.7,329.4 567.2,328.9 576.8,330.1" fill="none" stroke="#bcb3ac" stroke-width="1.0" stroke-linejoin="round" stroke-linecap="round"/>
<polyline points="531.4,317.7 538.5,318.7 545.7,318.9 552.9,318.9 557.7,319.9 562.5,322.2 568.4,323.0 574.4,323.7 579.2,324.6 586.4,327.0 593.6,328.5 603.1,329.7 612.7,330.1 622.3,331.3 631.8,331.8 639.0,331.8 643.8,330.1 651.0,331.3 658.1,332.5 662.9,333.7 667.7,332.5 674.9,332.5 684.5,333.3 694.0,331.8 703.6,330.1 710.8,328.9 718.0,327.8 725.1,328.5 732.3,326.6 741.9,325.4 749.1,321.8 753.8,323.0" fill="none" stroke="#524d49" stroke-width="1.4" stroke-linejoin="round" stroke-linecap="round"/>
<polyline points="528.5,318.2 532.6,321.3 537.3,323.7 542.1,321.8 546.9,320.8 552.4,321.1 556.5,325.8 561.3,323.0 567.2,322.2 570.8,319.4 574.4,313.4 579.2,296.7 583.5,285.9 588.1,285.9" fill="none" stroke="#cc1f3a" stroke-width="2.1" stroke-linejoin="round" stroke-linecap="round"/>
<path d="M519.5,386.2 V382.2 H761.1 V386.2 M579.5,382.2 V386.2" fill="none" stroke="#857c76" stroke-width="1.1"/>
<text x="760.7" y="283.1" font-size="14.4" text-anchor="end" fill="#FFF1E5" stroke="#FFF1E5" stroke-width="1.8" stroke-linejoin="round">5,500</text>
<text x="760.7" y="283.1" font-size="14.4" text-anchor="end" fill="#66605c" stroke="#66605c" stroke-width="0.25">5,500</text>
<text x="760.7" y="335.2" font-size="14.4" text-anchor="end" fill="#FFF1E5" stroke="#FFF1E5" stroke-width="1.8" stroke-linejoin="round">2,750</text>
<text x="760.7" y="335.2" font-size="14.4" text-anchor="end" fill="#66605c" stroke="#66605c" stroke-width="0.25">2,750</text>
<text x="760.7" y="380.1" font-size="14.4" text-anchor="end" fill="#FFF1E5" stroke="#FFF1E5" stroke-width="1.8" stroke-linejoin="round">0</text>
<text x="760.7" y="380.1" font-size="14.4" text-anchor="end" fill="#66605c" stroke="#66605c" stroke-width="0.25">0</text>
<text x="520.0" y="397.8" font-size="13.3" fill="#66605c" textLength="19.5" lengthAdjust="spacingAndGlyphs" stroke="#66605c" stroke-width="0.25">Jan</text>
<text x="580.0" y="397.8" font-size="13.3" fill="#66605c" textLength="21.3" lengthAdjust="spacingAndGlyphs" stroke="#66605c" stroke-width="0.25">Apr</text>
<text x="761.3" y="397.8" font-size="13.3" text-anchor="end" fill="#66605c" textLength="23.3" lengthAdjust="spacingAndGlyphs" stroke="#66605c" stroke-width="0.25">Dec</text>
<text x="591.6" y="309.8" font-size="12.3" fill="#FFF1E5" stroke="#FFF1E5" stroke-width="3" stroke-linejoin="round" textLength="71.8" lengthAdjust="spacingAndGlyphs">6,200 (+42%)</text>
<text x="591.6" y="309.8" font-size="12.3" fill="#cc1f3a" textLength="71.8" lengthAdjust="spacingAndGlyphs" stroke="#cc1f3a" stroke-width="0.3">6,200 (+42%)</text>
<text x="778.3" y="264.3" font-size="13.9" font-weight="700" fill="#000000" textLength="52.1" lengthAdjust="spacingAndGlyphs">Portugal</text>
<line x1="778" y1="277.95" x2="1020" y2="277.95" stroke="#e6d8cc" stroke-width="1"/>
<line x1="778" y1="330.05" x2="1020" y2="330.05" stroke="#e6d8cc" stroke-width="1"/>
<polygon points="828.1,303.8 828.8,302.8 834.1,299.6 839.0,296.0 842.6,292.4 847.4,297.2 847.4,308.0 842.6,307.5 839.0,306.4 834.1,304.5 828.8,302.2 828.1,301.9" fill="#ff6c68" fill-opacity="0.58"/>
<polyline points="782.8,300.0 787.4,298.2 792.1,298.9 796.7,309.0 801.4,300.3 806.0,299.4 810.7,299.5 815.3,297.7 820.0,300.3 824.6,303.4 829.3,307.6 833.9,308.0 838.6,307.5 843.2,305.9 847.9,307.0 852.5,306.9 857.2,306.7 861.8,310.8 866.5,311.2 871.1,312.8 875.8,312.7 880.4,308.4 885.1,313.8 889.7,312.3 894.4,313.4 899.0,311.6 903.7,311.7 908.3,315.7 913.0,316.9 917.6,317.0 922.3,316.5 926.9,314.6 931.6,314.6 936.2,316.2 940.9,321.0 945.5,314.9 950.2,320.3 954.8,322.4 959.5,319.3 964.1,317.1 968.8,315.0 973.4,315.2 978.1,312.3 982.7,314.7 987.4,311.0 992.0,309.7 996.7,306.1 1001.3,305.5 1006.0,301.5 1010.6,293.0 1014.6,299.8" fill="none" stroke="#bcb3ac" stroke-width="1.0" stroke-linejoin="round" stroke-linecap="round"/>
<polyline points="782.8,302.4 787.4,303.6 792.1,301.9 796.7,302.8 801.4,300.2 806.0,302.8 810.7,303.6 815.3,301.5 820.0,302.5 824.6,301.3 829.3,305.4 833.9,306.5 838.6,309.6 843.2,309.4 847.9,307.4 852.5,310.8 857.2,314.0 861.8,315.4 866.5,310.7 871.1,311.7 875.8,318.4 880.4,318.4 885.1,314.6 889.7,317.8 894.4,320.9 899.0,325.5 903.7,324.4 908.3,329.8 913.0,322.9 917.6,315.1 922.3,316.8 926.9,320.1 931.6,317.9 936.2,318.2 940.9,317.4 945.5,315.2 950.2,322.1 954.8,322.7 959.5,324.6 964.1,326.9 968.8,321.4 973.4,317.2 978.1,319.1 982.7,317.9 987.4,314.8 992.0,310.5 996.7,313.1 1001.3,311.4 1006.0,311.0 1010.6,306.5 1014.6,311.8" fill="none" stroke="#bcb3ac" stroke-width="1.0" stroke-linejoin="round" stroke-linecap="round"/>
<polyline points="782.8,302.3 787.4,299.4 792.1,296.1 796.7,295.6 801.4,297.6 806.0,297.1 810.7,305.7 815.3,303.1 820.0,299.9 824.6,300.6 829.3,309.5 833.9,305.0 838.6,304.8 843.2,304.1 847.9,315.1 852.5,316.8 857.2,314.2 861.8,319.7 866.5,316.6 871.1,316.4 875.8,315.4 880.4,321.2 885.1,319.2 889.7,320.9 894.4,314.6 899.0,319.5 903.7,321.7 908.3,322.9 913.0,327.3 917.6,327.0 922.3,323.4 926.9,322.1 931.6,318.4 936.2,319.4 940.9,322.3 945.5,321.3 950.2,323.5 954.8,329.5 959.5,321.5 964.1,320.1 968.8,315.0 973.4,313.0 978.1,317.3 982.7,318.0 987.4,313.5 992.0,311.1 996.7,313.3 1001.3,317.0 1006.0,305.5 1010.6,303.1 1014.6,301.3" fill="none" stroke="#bcb3ac" stroke-width="1.0" stroke-linejoin="round" stroke-linecap="round"/>
<polyline points="782.8,298.5 787.4,299.4 792.1,302.2 796.7,297.9 801.4,300.1 806.0,299.4 810.7,299.6 815.3,305.1 820.0,309.7 824.6,310.3 829.3,307.3 833.9,307.8 838.6,305.6 843.2,312.0 847.9,309.9 852.5,312.1 857.2,316.2 861.8,317.8 866.5,313.7 871.1,319.9 875.8,321.5 880.4,322.1 885.1,321.2 889.7,318.4 894.4,317.4 899.0,319.3 903.7,315.3 908.3,320.6 913.0,318.2 917.6,317.5 922.3,316.0 926.9,313.8 931.6,313.9 936.2,311.6 940.9,317.9 945.5,317.3 950.2,318.9 954.8,324.6 959.5,323.5 964.1,321.4 968.8,317.0 973.4,318.0 978.1,316.5 982.7,314.2 987.4,320.2 992.0,310.2 996.7,308.2 1001.3,305.1 1006.0,311.1 1010.6,313.7 1014.6,311.1" fill="none" stroke="#bcb3ac" stroke-width="1.0" stroke-linejoin="round" stroke-linecap="round"/>
<polyline points="782.8,304.9 787.4,303.2 792.1,299.5 796.7,300.5 801.4,302.0 806.0,300.2 810.7,299.3 815.3,297.1 820.0,300.5 824.6,302.8 829.3,305.3 833.9,309.4 838.6,306.2 843.2,307.0 847.9,306.8 852.5,306.8 857.2,307.3 861.8,305.6 866.5,309.8 871.1,309.2 875.8,312.2 880.4,316.8 885.1,323.0 889.7,317.4 894.4,313.6 899.0,315.1 903.7,315.2 908.3,316.4 913.0,316.9 917.6,315.5 922.3,315.0 926.9,317.4 931.6,318.2 936.2,319.5 940.9,323.8 945.5,319.2 950.2,316.9 954.8,322.0 959.5,317.7 964.1,316.6 968.8,318.6 973.4,317.5 978.1,313.0 982.7,311.8 987.4,307.0 992.0,307.0 996.7,304.1 1001.3,309.8 1006.0,309.4 1010.6,307.1 1014.6,304.8" fill="none" stroke="#bcb3ac" stroke-width="1.0" stroke-linejoin="round" stroke-linecap="round"/>
<polyline points="782.8,301.4 787.4,308.2 792.1,304.7 796.7,303.1 801.4,295.8 806.0,296.4 810.7,295.1 815.3,296.0 820.0,298.7 824.6,306.8 829.3,312.4 833.9,316.2 838.6,313.2 843.2,309.3 847.9,308.2 852.5,312.7 857.2,308.9 861.8,310.0 866.5,311.2 871.1,310.0 875.8,311.7 880.4,314.3 885.1,315.1 889.7,314.1 894.4,313.3 899.0,318.3 903.7,321.5 908.3,321.9 913.0,317.4 917.6,319.1 922.3,321.4 926.9,318.4 931.6,316.9 936.2,318.7 940.9,322.7 945.5,324.9 950.2,326.9 954.8,323.7 959.5,323.0 964.1,317.0 968.8,315.4 973.4,313.2 978.1,315.0 982.7,314.1 987.4,314.4 992.0,314.3 996.7,308.5 1001.3,315.4 1006.0,307.5 1010.6,302.7 1014.6,304.6" fill="none" stroke="#bcb3ac" stroke-width="1.0" stroke-linejoin="round" stroke-linecap="round"/>
<polyline points="782.8,299.8 787.4,306.8 792.1,303.7 796.7,305.8 801.4,300.4 806.0,305.8 810.7,302.8 815.3,302.8 820.0,299.4 824.6,306.4 829.3,307.8 833.9,307.5 838.6,305.1 843.2,305.0 847.9,309.9 852.5,312.0 857.2,311.3 861.8,308.5 866.5,315.4 871.1,316.0 875.8,318.7 880.4,315.6 885.1,313.5 889.7,314.3 894.4,318.1 899.0,313.3 903.7,313.7 908.3,313.9 913.0,314.7 917.6,318.9 922.3,323.6 926.9,320.0 931.6,321.4 936.2,322.1 940.9,325.3 945.5,321.2 950.2,320.9 954.8,326.3 959.5,322.0 964.1,319.1 968.8,317.2 973.4,315.8 978.1,314.3 982.7,313.6 987.4,311.6 992.0,305.9 996.7,306.6 1001.3,307.0 1006.0,304.3 1010.6,298.2 1014.6,295.4" fill="none" stroke="#bcb3ac" stroke-width="1.0" stroke-linejoin="round" stroke-linecap="round"/>
<polyline points="782.8,300.9 787.4,304.7 792.1,302.7 796.7,306.3 801.4,304.6 806.0,307.0 810.7,304.0 815.3,305.2 820.0,302.3 824.6,305.9 829.3,309.6 833.9,311.1 838.6,313.5 843.2,312.2 847.9,313.9 852.5,309.5 857.2,310.6 861.8,315.0 866.5,319.3 871.1,316.6 875.8,318.8 880.4,321.3 885.1,317.2 889.7,314.8 894.4,314.9 899.0,317.3 903.7,321.4 908.3,321.1 913.0,322.0 917.6,320.0 922.3,316.3 926.9,321.6 931.6,323.7 936.2,325.4 940.9,327.5 945.5,318.8 950.2,318.4 954.8,324.1 959.5,324.7 964.1,319.1 968.8,318.3 973.4,320.9 978.1,321.7 982.7,320.4 987.4,318.7 992.0,320.0 996.7,319.8 1001.3,317.8 1006.0,311.0 1010.6,312.4 1014.6,309.8" fill="none" stroke="#bcb3ac" stroke-width="1.0" stroke-linejoin="round" stroke-linecap="round"/>
<polyline points="782.8,297.2 787.4,303.5 792.1,300.3 796.7,299.8 801.4,297.0 806.0,302.3 810.7,303.3 815.3,307.0 820.0,309.3 824.6,307.6 829.3,308.9 833.9,309.7 838.6,307.4 843.2,307.0 847.9,314.3 852.5,306.6 857.2,312.1 861.8,313.1 866.5,311.7 871.1,317.7 875.8,319.7 880.4,321.0 885.1,316.0 889.7,318.5 894.4,319.7 899.0,318.7 903.7,316.1 908.3,321.0 913.0,316.8 917.6,319.2 922.3,317.5 926.9,320.9 931.6,318.9 936.2,317.7 940.9,314.9 945.5,314.1 950.2,316.5 954.8,317.2 959.5,320.5 964.1,321.7 968.8,323.0 973.4,316.9 978.1,317.4 982.7,320.1 987.4,318.8 992.0,317.7 996.7,312.5 1001.3,314.2 1006.0,315.0 1010.6,314.6 1014.6,312.5" fill="none" stroke="#bcb3ac" stroke-width="1.0" stroke-linejoin="round" stroke-linecap="round"/>
<polyline points="782.8,264.5 786.9,274.2 791.7,275.4 796.6,280.3 801.4,291.2 806.3,296.0 814.8,271.3 824.4,288.8 834.1,304.5 843.8,309.3" fill="none" stroke="#bcb3ac" stroke-width="1.0" stroke-linejoin="round" stroke-linecap="round"/>
<polyline points="782.8,298.4 790.5,299.6 800.2,297.2 809.9,298.4 819.6,300.9 826.9,302.8 834.1,306.9" fill="none" stroke="#bcb3ac" stroke-width="1.0" stroke-linejoin="round" stroke-linecap="round"/>
<polyline points="782.8,296.0 790.5,300.9 800.2,302.1 809.9,299.6 819.6,298.4 826.9,303.8 834.1,308.1" fill="none" stroke="#bcb3ac" stroke-width="1.0" stroke-linejoin="round" stroke-linecap="round"/>
<polyline points="782.8,300.9 790.5,297.2 800.2,294.8 807.5,286.3 814.8,294.8 824.4,300.9 834.1,305.7" fill="none" stroke="#bcb3ac" stroke-width="1.0" stroke-linejoin="round" stroke-linecap="round"/>
<polyline points="994.0,308.1 1003.7,302.1 1014.6,288.8" fill="none" stroke="#bcb3ac" stroke-width="1.0" stroke-linejoin="round" stroke-linecap="round"/>
<polyline points="783.3,274.7 790.5,279.5 797.8,277.1 805.1,282.0 812.3,289.2 819.6,294.1 826.9,301.3 834.1,305.0" fill="none" stroke="#bcb3ac" stroke-width="1.0" stroke-linejoin="round" stroke-linecap="round"/>
<polyline points="783.3,284.4 790.5,286.8 797.8,289.2 805.1,279.5 814.8,289.2 824.4,298.9 831.7,303.8" fill="none" stroke="#bcb3ac" stroke-width="1.0" stroke-linejoin="round" stroke-linecap="round"/>
<polyline points="848.7,308.6 863.2,312.2 877.7,313.4 892.3,305.0 901.9,308.6 911.6,313.4 921.3,312.2 931.0,317.1" fill="none" stroke="#bcb3ac" stroke-width="1.0" stroke-linejoin="round" stroke-linecap="round"/>
<polyline points="782.8,281.5 786.9,278.6 791.7,282.7 796.6,277.1 801.4,285.1 806.3,283.9 812.3,290.0 819.6,295.5 826.9,301.3 834.1,304.5 841.4,307.4 848.7,308.1 855.9,310.5 863.2,312.5 872.9,314.2 880.1,314.9 887.4,315.9 894.7,314.9 901.9,316.6 906.8,318.3 916.5,318.3 926.2,318.3 931.0,317.3 935.8,313.5 940.7,318.3 945.5,317.8 955.2,319.0 960.1,317.3 969.8,315.9 974.6,314.2 984.3,313.5 989.1,310.1 996.4,306.2 1003.7,306.2 1009.7,302.1 1014.6,302.8" fill="none" stroke="#524d49" stroke-width="1.4" stroke-linejoin="round" stroke-linecap="round"/>
<polyline points="782.8,291.7 786.9,286.8 791.7,287.5 796.6,286.3 801.4,288.3 806.3,299.6 811.1,303.3 818.4,306.2 824.4,309.3 828.8,302.8 834.1,299.6 839.0,296.0 842.6,292.4 847.4,297.2" fill="none" stroke="#cc1f3a" stroke-width="2.1" stroke-linejoin="round" stroke-linecap="round"/>
<path d="M778.5,386.2 V382.2 H1020.1 V386.2 M838.5,382.2 V386.2" fill="none" stroke="#857c76" stroke-width="1.1"/>
<text x="1019.7" y="283.1" font-size="14.4" text-anchor="end" fill="#FFF1E5" stroke="#FFF1E5" stroke-width="1.8" stroke-linejoin="round">3,000</text>
<text x="1019.7" y="283.1" font-size="14.4" text-anchor="end" fill="#66605c" stroke="#66605c" stroke-width="0.25">3,000</text>
<text x="1019.7" y="335.2" font-size="14.4" text-anchor="end" fill="#FFF1E5" stroke="#FFF1E5" stroke-width="1.8" stroke-linejoin="round">1,500</text>
<text x="1019.7" y="335.2" font-size="14.4" text-anchor="end" fill="#66605c" stroke="#66605c" stroke-width="0.25">1,500</text>
<text x="1019.7" y="380.1" font-size="14.4" text-anchor="end" fill="#FFF1E5" stroke="#FFF1E5" stroke-width="1.8" stroke-linejoin="round">0</text>
<text x="1019.7" y="380.1" font-size="14.4" text-anchor="end" fill="#66605c" stroke="#66605c" stroke-width="0.25">0</text>
<text x="779.0" y="397.8" font-size="13.3" fill="#66605c" textLength="19.5" lengthAdjust="spacingAndGlyphs" stroke="#66605c" stroke-width="0.25">Jan</text>
<text x="839.0" y="397.8" font-size="13.3" fill="#66605c" textLength="21.3" lengthAdjust="spacingAndGlyphs" stroke="#66605c" stroke-width="0.25">Apr</text>
<text x="1020.3" y="397.8" font-size="13.3" text-anchor="end" fill="#66605c" textLength="23.3" lengthAdjust="spacingAndGlyphs" stroke="#66605c" stroke-width="0.25">Dec</text>
<text x="850.6" y="304.3" font-size="12.3" fill="#FFF1E5" stroke="#FFF1E5" stroke-width="3" stroke-linejoin="round" textLength="72.4" lengthAdjust="spacingAndGlyphs">1,000 (+10%)</text>
<text x="850.6" y="304.3" font-size="12.3" fill="#cc1f3a" textLength="72.4" lengthAdjust="spacingAndGlyphs" stroke="#cc1f3a" stroke-width="0.3">1,000 (+10%)</text>
<text x="1.3" y="438.1" font-size="13.9" font-weight="700" fill="#000000" textLength="33.5" lengthAdjust="spacingAndGlyphs">Spain</text>
<line x1="1" y1="451.70000000000005" x2="243" y2="451.70000000000005" stroke="#e6d8cc" stroke-width="1"/>
<line x1="1" y1="503.80000000000007" x2="243" y2="503.80000000000007" stroke="#e6d8cc" stroke-width="1"/>
<polygon points="47.8,501.8 50.2,499.4 54.5,476.6 58.6,452.2 63.4,455.1 68.7,471.8 68.7,506.4 63.4,506.3 58.6,506.3 54.5,506.5 50.2,505.5 47.8,504.8" fill="#ff6c68" fill-opacity="0.58"/>
<polyline points="4.3,499.2 9.0,494.0 13.6,490.1 18.3,493.3 22.9,494.7 27.6,497.0 32.2,496.7 36.9,499.6 41.5,502.6 46.2,505.2 50.8,506.7 55.5,505.4 60.1,505.7 64.8,507.3 69.4,507.6 74.1,508.7 78.7,510.2 83.4,510.7 88.0,510.4 92.7,510.5 97.3,508.1 102.0,510.7 106.6,512.9 111.3,513.7 115.9,511.9 120.6,510.0 125.2,511.9 129.9,512.4 134.5,511.3 139.2,512.8 143.8,511.9 148.5,512.0 153.1,512.2 157.8,513.0 162.4,517.8 167.1,516.1 171.7,515.6 176.4,513.7 181.0,512.3 185.7,513.3 190.3,513.0 195.0,512.7 199.6,511.0 204.3,508.7 205.7,509.6" fill="none" stroke="#bcb3ac" stroke-width="1.0" stroke-linejoin="round" stroke-linecap="round"/>
<polyline points="4.3,499.4 8.4,494.6 13.2,492.7 17.9,494.6 23.9,496.2 28.7,498.2 35.9,500.6 41.9,501.8 47.8,504.9 53.8,506.5 58.6,506.3 68.2,506.3 74.2,507.7 78.9,508.9 82.5,510.8 86.1,509.2 90.9,510.1 98.1,510.1 105.3,510.8 110.0,513.0 114.8,510.6 122.0,509.4 126.8,510.1 134.0,512.0 141.1,512.0 145.9,508.9 151.9,512.5 161.5,514.9 167.5,514.0 177.0,513.2 184.2,512.5 189.0,511.3 198.6,511.3 205.7,507.7" fill="none" stroke="#524d49" stroke-width="1.4" stroke-linejoin="round" stroke-linecap="round"/>
<polyline points="4.3,501.8 8.4,497.7 13.2,495.8 17.9,495.8 22.7,497.0 27.5,501.0 35.9,504.9 41.9,505.3 45.5,504.1 50.2,499.4 54.5,476.6 58.6,452.2 63.4,455.1 68.7,471.8" fill="none" stroke="#cc1f3a" stroke-width="2.1" stroke-linejoin="round" stroke-linecap="round"/>
<path d="M1.5,559.95 V555.95 H243.1 V559.95 M61.5,555.95 V559.95" fill="none" stroke="#857c76" stroke-width="1.1"/>
<text x="242.7" y="456.9" font-size="14.4" text-anchor="end" fill="#FFF1E5" stroke="#FFF1E5" stroke-width="1.8" stroke-linejoin="round">16,500</text>
<text x="242.7" y="456.9" font-size="14.4" text-anchor="end" fill="#66605c" stroke="#66605c" stroke-width="0.25">16,500</text>
<text x="242.7" y="509.0" font-size="14.4" text-anchor="end" fill="#FFF1E5" stroke="#FFF1E5" stroke-width="1.8" stroke-linejoin="round">8,250</text>
<text x="242.7" y="509.0" font-size="14.4" text-anchor="end" fill="#66605c" stroke="#66605c" stroke-width="0.25">8,250</text>
<text x="242.7" y="553.9" font-size="14.4" text-anchor="end" fill="#FFF1E5" stroke="#FFF1E5" stroke-width="1.8" stroke-linejoin="round">0</text>
<text x="242.7" y="553.9" font-size="14.4" text-anchor="end" fill="#66605c" stroke="#66605c" stroke-width="0.25">0</text>
<text x="2.0" y="571.6" font-size="13.3" fill="#66605c" textLength="19.5" lengthAdjust="spacingAndGlyphs" stroke="#66605c" stroke-width="0.25">Jan</text>
<text x="62.0" y="571.6" font-size="13.3" fill="#66605c" textLength="21.3" lengthAdjust="spacingAndGlyphs" stroke="#66605c" stroke-width="0.25">Apr</text>
<text x="243.3" y="571.6" font-size="13.3" text-anchor="end" fill="#66605c" textLength="23.3" lengthAdjust="spacingAndGlyphs" stroke="#66605c" stroke-width="0.25">Dec</text>
<text x="71.8" y="481.9" font-size="12.3" fill="#FFF1E5" stroke="#FFF1E5" stroke-width="3" stroke-linejoin="round" textLength="79.6" lengthAdjust="spacingAndGlyphs">27,600 (+51%)</text>
<text x="71.8" y="481.9" font-size="12.3" fill="#cc1f3a" textLength="79.6" lengthAdjust="spacingAndGlyphs" stroke="#cc1f3a" stroke-width="0.3">27,600 (+51%)</text>
<text x="260.3" y="438.1" font-size="13.9" font-weight="700" fill="#000000" textLength="47.1" lengthAdjust="spacingAndGlyphs">Sweden</text>
<line x1="260" y1="451.70000000000005" x2="502" y2="451.70000000000005" stroke="#e6d8cc" stroke-width="1"/>
<line x1="260" y1="503.80000000000007" x2="502" y2="503.80000000000007" stroke="#e6d8cc" stroke-width="1"/>
<polygon points="312.5,479.9 315.4,477.8 320.2,469.5 324.5,455.8 329.3,462.3 329.3,482.9 324.5,481.0 320.2,481.7 315.4,479.6 312.5,477.5" fill="#ff6c68" fill-opacity="0.58"/>
<polyline points="264.7,469.6 269.3,474.6 274.0,475.2 278.6,471.9 283.3,473.7 287.9,476.3 292.6,477.3 297.2,473.9 301.9,472.9 306.5,480.3 311.2,480.3 315.8,481.6 320.5,484.8 325.1,481.5 329.8,488.4 334.4,490.2 339.1,491.7 343.7,489.6 348.4,495.1 353.0,495.1 357.7,494.9 362.3,495.5 367.0,496.3 371.6,492.5 376.3,494.0 380.9,494.9 385.6,494.8 390.2,495.9 394.9,497.3 399.5,487.4 404.2,488.8 408.8,490.9 413.5,492.1 418.1,493.5 422.8,492.8 427.4,487.5 432.1,489.0 436.7,487.3 441.4,487.0 446.0,487.4 450.7,482.3 455.3,487.4 460.0,480.8 464.6,481.0 469.3,485.2 473.9,485.6 478.6,481.3 483.2,482.3 487.9,485.5 492.5,485.7 496.0,483.7" fill="none" stroke="#bcb3ac" stroke-width="1.0" stroke-linejoin="round" stroke-linecap="round"/>
<polyline points="264.7,470.0 269.3,475.2 274.0,475.2 278.6,471.1 283.3,472.7 287.9,472.0 292.6,462.6 297.2,458.6 301.9,458.5 306.5,463.8 311.2,466.9 315.8,475.1 320.5,475.9 325.1,471.2 329.8,479.4 334.4,484.8 339.1,487.7 343.7,489.7 348.4,488.5 353.0,484.6 357.7,484.4 362.3,485.8 367.0,488.0 371.6,495.5 376.3,494.1 380.9,489.0 385.6,485.1 390.2,483.6 394.9,486.0 399.5,484.7 404.2,485.0 408.8,487.5 413.5,484.7 418.1,485.4 422.8,485.9 427.4,486.7 432.1,483.9 436.7,479.7 441.4,481.8 446.0,479.6 450.7,484.2 455.3,482.3 460.0,483.0 464.6,483.2 469.3,480.9 473.9,483.5 478.6,483.3 483.2,480.1 487.9,479.9 492.5,479.1 496.0,474.0" fill="none" stroke="#bcb3ac" stroke-width="1.0" stroke-linejoin="round" stroke-linecap="round"/>
<polyline points="264.7,476.7 269.3,476.6 274.0,474.6 278.6,467.7 283.3,464.1 287.9,468.4 292.6,469.5 297.2,472.3 301.9,474.8 306.5,470.6 311.2,477.3 315.8,481.5 320.5,484.0 325.1,478.3 329.8,484.6 334.4,486.1 339.1,491.5 343.7,491.1 348.4,487.9 353.0,491.4 357.7,495.8 362.3,488.9 367.0,492.0 371.6,492.1 376.3,489.1 380.9,490.1 385.6,488.8 390.2,487.8 394.9,488.3 399.5,484.9 404.2,482.7 408.8,486.8 413.5,484.0 418.1,491.0 422.8,486.7 427.4,487.4 432.1,490.3 436.7,488.6 441.4,487.9 446.0,488.1 450.7,481.8 455.3,483.3 460.0,486.0 464.6,481.6 469.3,483.2 473.9,482.5 478.6,482.4 483.2,480.6 487.9,481.3 492.5,483.6 496.0,484.9" fill="none" stroke="#bcb3ac" stroke-width="1.0" stroke-linejoin="round" stroke-linecap="round"/>
<polyline points="264.7,464.2 272.4,468.3 279.5,474.2 286.7,476.6 293.9,469.5 301.1,463.5 308.2,464.7 315.4,471.8 322.6,481.4 329.8,483.8" fill="none" stroke="#bcb3ac" stroke-width="1.0" stroke-linejoin="round" stroke-linecap="round"/>
<polyline points="264.7,473.2 272.4,474.2 279.5,474.2 286.7,475.4 291.5,471.8 297.5,468.9 302.3,470.8 308.2,475.6 312.5,477.5 316.6,480.4 321.4,482.1 326.2,480.4 329.8,483.3 334.6,482.1 340.5,485.2 346.5,488.1 352.5,490.9 357.3,492.8 362.1,490.5 368.0,491.7 375.2,492.8 382.4,490.0 388.4,489.3 394.4,490.9 401.5,489.3 408.7,490.0 415.9,489.3 423.1,488.1 430.2,490.0 436.2,488.1 442.2,487.6 449.4,485.2 456.6,486.9 463.7,484.5 470.9,484.5 478.1,483.3 484.1,481.4 490.1,482.8 496.0,480.9" fill="none" stroke="#524d49" stroke-width="1.4" stroke-linejoin="round" stroke-linecap="round"/>
<polyline points="264.7,477.1 268.8,477.8 273.6,480.7 278.3,480.2 283.1,480.7 287.9,481.4 292.7,479.5 297.5,480.9 302.3,481.9 307.0,479.0 311.1,480.9 315.4,477.8 320.2,469.5 324.5,455.8 329.3,462.3" fill="none" stroke="#cc1f3a" stroke-width="2.1" stroke-linejoin="round" stroke-linecap="round"/>
<path d="M260.5,559.95 V555.95 H502.1 V559.95 M320.5,555.95 V559.95" fill="none" stroke="#857c76" stroke-width="1.1"/>
<text x="501.7" y="456.9" font-size="14.4" text-anchor="end" fill="#FFF1E5" stroke="#FFF1E5" stroke-width="1.8" stroke-linejoin="round">2,500</text>
<text x="501.7" y="456.9" font-size="14.4" text-anchor="end" fill="#66605c" stroke="#66605c" stroke-width="0.25">2,500</text>
<text x="501.7" y="509.0" font-size="14.4" text-anchor="end" fill="#FFF1E5" stroke="#FFF1E5" stroke-width="1.8" stroke-linejoin="round">1,250</text>
<text x="501.7" y="509.0" font-size="14.4" text-anchor="end" fill="#66605c" stroke="#66605c" stroke-width="0.25">1,250</text>
<text x="501.7" y="553.9" font-size="14.4" text-anchor="end" fill="#FFF1E5" stroke="#FFF1E5" stroke-width="1.8" stroke-linejoin="round">0</text>
<text x="501.7" y="553.9" font-size="14.4" text-anchor="end" fill="#66605c" stroke="#66605c" stroke-width="0.25">0</text>
<text x="261.0" y="571.6" font-size="13.3" fill="#66605c" textLength="19.5" lengthAdjust="spacingAndGlyphs" stroke="#66605c" stroke-width="0.25">Jan</text>
<text x="321.0" y="571.6" font-size="13.3" fill="#66605c" textLength="21.3" lengthAdjust="spacingAndGlyphs" stroke="#66605c" stroke-width="0.25">Apr</text>
<text x="502.3" y="571.6" font-size="13.3" text-anchor="end" fill="#66605c" textLength="23.3" lengthAdjust="spacingAndGlyphs" stroke="#66605c" stroke-width="0.25">Dec</text>
<text x="332.6" y="475.2" font-size="12.3" fill="#FFF1E5" stroke="#FFF1E5" stroke-width="3" stroke-linejoin="round" textLength="71.8" lengthAdjust="spacingAndGlyphs">1,300 (+18%)</text>
<text x="332.6" y="475.2" font-size="12.3" fill="#cc1f3a" textLength="71.8" lengthAdjust="spacingAndGlyphs" stroke="#cc1f3a" stroke-width="0.3">1,300 (+18%)</text>
<text x="519.3" y="438.1" font-size="13.9" font-weight="700" fill="#000000" textLength="70.6" lengthAdjust="spacingAndGlyphs">Switzerland</text>
<line x1="519" y1="451.70000000000005" x2="761" y2="451.70000000000005" stroke="#e6d8cc" stroke-width="1"/>
<line x1="519" y1="503.80000000000007" x2="761" y2="503.80000000000007" stroke="#e6d8cc" stroke-width="1"/>
<polygon points="569.6,484.3 570.8,483.3 574.4,478.5 579.7,470.7 584.0,457.5 588.3,467.1 588.3,490.0 584.0,488.2 579.7,487.0 574.4,485.6 570.8,483.9 569.6,483.3" fill="#ff6c68" fill-opacity="0.58"/>
<polyline points="523.7,477.5 528.3,474.7 533.0,475.1 537.6,480.4 542.3,479.3 546.9,475.6 551.6,475.6 556.2,476.7 560.9,479.1 565.5,480.2 570.2,486.3 574.8,487.9 579.5,488.9 584.1,490.2 588.8,493.6 593.4,492.0 598.1,491.9 602.7,490.3 607.4,497.2 612.0,495.7 616.7,494.6 621.3,498.2 626.0,494.4 630.6,500.0 635.3,497.3 639.9,496.2 644.6,490.2 649.2,492.4 653.9,489.7 658.5,488.5 663.2,490.3 667.8,496.2 672.5,495.3 677.1,498.7 681.8,497.9 686.4,498.3 691.1,497.0 695.7,493.3 700.4,491.4 705.0,492.2 709.7,491.6 714.3,489.5 719.0,487.6 723.6,490.4 728.3,490.9 732.9,490.6 737.6,487.6 742.2,488.5 746.9,486.9 751.5,485.9 755.0,482.1" fill="none" stroke="#bcb3ac" stroke-width="1.0" stroke-linejoin="round" stroke-linecap="round"/>
<polyline points="523.7,485.1 528.3,482.1 533.0,482.3 537.6,485.5 542.3,484.8 546.9,482.7 551.6,484.0 556.2,481.7 560.9,481.4 565.5,482.6 570.2,490.0 574.8,487.6 579.5,488.4 584.1,490.9 588.8,493.7 593.4,493.7 598.1,492.5 602.7,493.7 607.4,494.8 612.0,496.8 616.7,496.9 621.3,495.3 626.0,500.1 630.6,498.1 635.3,494.3 639.9,499.2 644.6,500.1 649.2,500.7 653.9,498.4 658.5,492.6 663.2,503.0 667.8,500.2 672.5,493.7 677.1,496.5 681.8,491.9 686.4,496.2 691.1,493.5 695.7,495.2 700.4,491.6 705.0,487.3 709.7,487.3 714.3,494.7 719.0,493.0 723.6,491.9 728.3,488.4 732.9,490.3 737.6,492.3 742.2,488.9 746.9,488.0 751.5,483.8 755.0,482.3" fill="none" stroke="#bcb3ac" stroke-width="1.0" stroke-linejoin="round" stroke-linecap="round"/>
<polyline points="523.7,480.3 528.3,477.8 533.0,477.0 537.6,478.9 542.3,477.8 546.9,475.4 551.6,477.7 556.2,477.4 560.9,475.8 565.5,481.4 570.2,487.0 574.8,484.1 579.5,487.0 584.1,490.2 588.8,489.2 593.4,492.7 598.1,497.2 602.7,488.0 607.4,495.6 612.0,497.0 616.7,494.2 621.3,492.7 626.0,496.1 630.6,500.3 635.3,497.1 639.9,496.7 644.6,494.2 649.2,495.6 653.9,496.3 658.5,495.0 663.2,495.9 667.8,496.2 672.5,495.6 677.1,498.6 681.8,494.1 686.4,493.0 691.1,493.6 695.7,489.8 700.4,489.6 705.0,488.1 709.7,489.9 714.3,490.5 719.0,491.8 723.6,486.2 728.3,488.1 732.9,491.2 737.6,490.1 742.2,487.4 746.9,489.5 751.5,487.3 755.0,491.5" fill="none" stroke="#bcb3ac" stroke-width="1.0" stroke-linejoin="round" stroke-linecap="round"/>
<polyline points="523.7,478.3 528.3,472.8 533.0,472.5 537.6,480.2 542.3,477.1 546.9,473.0 551.6,475.6 556.2,475.4 560.9,474.5 565.5,481.5 570.2,482.0 574.8,485.2 579.5,489.7 584.1,488.3 588.8,487.7 593.4,490.1 598.1,494.2 602.7,493.5 607.4,498.2 612.0,495.1 616.7,493.4 621.3,494.5 626.0,494.8 630.6,493.0 635.3,495.8 639.9,493.4 644.6,493.7 649.2,497.9 653.9,493.9 658.5,496.1 663.2,498.2 667.8,493.4 672.5,494.3 677.1,496.8 681.8,493.6 686.4,494.7 691.1,494.6 695.7,490.9 700.4,494.1 705.0,492.4 709.7,491.8 714.3,489.6 719.0,489.4 723.6,487.4 728.3,487.4 732.9,486.0 737.6,484.0 742.2,485.8 746.9,484.5 751.5,485.9 755.0,486.7" fill="none" stroke="#bcb3ac" stroke-width="1.0" stroke-linejoin="round" stroke-linecap="round"/>
<polyline points="523.7,485.2 528.3,480.5 533.0,478.7 537.6,482.2 542.3,475.6 546.9,476.7 551.6,474.4 556.2,477.6 560.9,480.3 565.5,479.6 570.2,483.8 574.8,482.4 579.5,485.3 584.1,488.3 588.8,486.6 593.4,489.4 598.1,494.2 602.7,496.4 607.4,497.5 612.0,496.1 616.7,495.0 621.3,493.3 626.0,491.4 630.6,496.5 635.3,496.4 639.9,493.5 644.6,492.8 649.2,494.4 653.9,498.4 658.5,497.1 663.2,498.5 667.8,494.8 672.5,488.7 677.1,491.2 681.8,496.2 686.4,493.3 691.1,489.6 695.7,493.1 700.4,492.3 705.0,487.3 709.7,488.9 714.3,490.2 719.0,489.3 723.6,491.2 728.3,492.6 732.9,489.9 737.6,486.0 742.2,485.8 746.9,483.4 751.5,482.6 755.0,487.9" fill="none" stroke="#bcb3ac" stroke-width="1.0" stroke-linejoin="round" stroke-linecap="round"/>
<polyline points="523.7,481.7 528.3,479.9 533.0,478.9 537.6,483.4 542.3,485.8 546.9,484.5 551.6,478.9 556.2,480.4 560.9,477.7 565.5,484.6 570.2,488.1 574.8,490.0 579.5,490.7 584.1,493.3 588.8,492.7 593.4,492.5 598.1,494.9 602.7,491.4 607.4,496.2 612.0,495.4 616.7,496.1 621.3,492.5 626.0,496.5 630.6,502.3 635.3,500.4 639.9,494.8 644.6,495.8 649.2,490.7 653.9,489.9 658.5,495.9 663.2,494.8 667.8,492.8 672.5,491.1 677.1,493.0 681.8,493.6 686.4,491.8 691.1,492.5 695.7,493.9 700.4,490.5 705.0,487.9 709.7,487.5 714.3,489.4 719.0,486.7 723.6,487.2 728.3,484.7 732.9,485.2 737.6,485.9 742.2,488.3 746.9,484.6 751.5,485.9 755.0,488.4" fill="none" stroke="#bcb3ac" stroke-width="1.0" stroke-linejoin="round" stroke-linecap="round"/>
<polyline points="523.7,483.8 528.3,480.6 533.0,478.5 537.6,481.0 542.3,479.0 546.9,478.9 551.6,480.6 556.2,484.6 560.9,480.9 565.5,486.2 570.2,486.2 574.8,489.3 579.5,487.1 584.1,487.1 588.8,490.2 593.4,491.9 598.1,496.6 602.7,495.9 607.4,494.5 612.0,498.5 616.7,496.3 621.3,496.4 626.0,495.9 630.6,495.9 635.3,495.2 639.9,492.7 644.6,491.1 649.2,490.9 653.9,487.0 658.5,491.7 663.2,491.1 667.8,495.0 672.5,493.8 677.1,497.3 681.8,495.6 686.4,496.6 691.1,491.3 695.7,490.3 700.4,491.3 705.0,485.2 709.7,484.6 714.3,488.8 719.0,486.4 723.6,485.5 728.3,486.0 732.9,487.1 737.6,488.4 742.2,486.4 746.9,486.3 751.5,483.5 755.0,487.2" fill="none" stroke="#bcb3ac" stroke-width="1.0" stroke-linejoin="round" stroke-linecap="round"/>
<polyline points="523.7,479.0 528.3,480.6 533.0,479.3 537.6,483.5 542.3,477.2 546.9,478.1 551.6,473.5 556.2,479.9 560.9,473.8 565.5,475.6 570.2,480.1 574.8,483.4 579.5,487.1 584.1,486.4 588.8,490.6 593.4,490.2 598.1,498.2 602.7,497.9 607.4,498.8 612.0,500.1 616.7,499.2 621.3,497.9 626.0,498.2 630.6,499.5 635.3,500.8 639.9,497.5 644.6,500.1 649.2,497.1 653.9,497.2 658.5,496.8 663.2,500.8 667.8,493.4 672.5,491.7 677.1,500.3 681.8,499.1 686.4,494.1 691.1,494.6 695.7,491.4 700.4,490.7 705.0,487.5 709.7,490.6 714.3,491.9 719.0,492.5 723.6,493.9 728.3,490.3 732.9,487.8 737.6,491.6 742.2,493.9 746.9,491.1 751.5,491.1 755.0,490.2" fill="none" stroke="#bcb3ac" stroke-width="1.0" stroke-linejoin="round" stroke-linecap="round"/>
<polyline points="523.7,473.0 533.7,465.1 540.9,470.7 550.5,461.8 560.1,465.9 567.2,476.6 574.4,483.8" fill="none" stroke="#bcb3ac" stroke-width="1.0" stroke-linejoin="round" stroke-linecap="round"/>
<polyline points="523.7,474.2 531.4,474.2 540.9,479.0 552.9,468.3 562.5,471.8 569.6,483.8 576.8,486.7" fill="none" stroke="#bcb3ac" stroke-width="1.0" stroke-linejoin="round" stroke-linecap="round"/>
<polyline points="523.7,481.4 527.8,478.5 532.6,477.8 537.3,482.6 544.5,479.5 550.5,474.7 555.3,478.5 560.1,476.2 564.8,479.5 569.6,483.3 575.6,486.2 581.6,487.4 586.4,489.1 591.2,491.5 598.3,493.4 603.1,491.5 609.1,494.6 615.1,493.4 622.3,494.6 629.4,497.0 634.2,497.0 639.0,493.9 646.2,495.8 653.4,493.4 660.5,493.9 665.3,495.8 670.1,493.9 677.3,495.8 684.5,494.6 694.0,493.4 701.2,492.2 708.4,489.1 715.6,491.0 722.7,490.5 729.9,488.6 737.1,488.1 744.3,486.7 750.3,486.2 755.0,487.4" fill="none" stroke="#524d49" stroke-width="1.4" stroke-linejoin="round" stroke-linecap="round"/>
<polyline points="523.7,487.4 527.8,485.7 532.6,483.8 537.3,483.3 542.1,482.1 546.9,484.3 551.7,485.0 556.5,486.2 562.5,487.4 567.2,486.2 570.8,483.3 574.4,478.5 579.7,470.7 584.0,457.5 588.3,467.1" fill="none" stroke="#cc1f3a" stroke-width="2.1" stroke-linejoin="round" stroke-linecap="round"/>
<path d="M519.5,559.95 V555.95 H761.1 V559.95 M579.5,555.95 V559.95" fill="none" stroke="#857c76" stroke-width="1.1"/>
<text x="760.7" y="456.9" font-size="14.4" text-anchor="end" fill="#FFF1E5" stroke="#FFF1E5" stroke-width="1.8" stroke-linejoin="round">2,000</text>
<text x="760.7" y="456.9" font-size="14.4" text-anchor="end" fill="#66605c" stroke="#66605c" stroke-width="0.25">2,000</text>
<text x="760.7" y="509.0" font-size="14.4" text-anchor="end" fill="#FFF1E5" stroke="#FFF1E5" stroke-width="1.8" stroke-linejoin="round">1,000</text>
<text x="760.7" y="509.0" font-size="14.4" text-anchor="end" fill="#66605c" stroke="#66605c" stroke-width="0.25">1,000</text>
<text x="760.7" y="553.9" font-size="14.4" text-anchor="end" fill="#FFF1E5" stroke="#FFF1E5" stroke-width="1.8" stroke-linejoin="round">0</text>
<text x="760.7" y="553.9" font-size="14.4" text-anchor="end" fill="#66605c" stroke="#66605c" stroke-width="0.25">0</text>
<text x="520.0" y="571.6" font-size="13.3" fill="#66605c" textLength="19.5" lengthAdjust="spacingAndGlyphs" stroke="#66605c" stroke-width="0.25">Jan</text>
<text x="580.0" y="571.6" font-size="13.3" fill="#66605c" textLength="21.3" lengthAdjust="spacingAndGlyphs" stroke="#66605c" stroke-width="0.25">Apr</text>
<text x="761.3" y="571.6" font-size="13.3" text-anchor="end" fill="#66605c" textLength="23.3" lengthAdjust="spacingAndGlyphs" stroke="#66605c" stroke-width="0.25">Dec</text>
<text x="591.6" y="477.1" font-size="12.3" fill="#FFF1E5" stroke="#FFF1E5" stroke-width="3" stroke-linejoin="round" textLength="71.8" lengthAdjust="spacingAndGlyphs">1,500 (+29%)</text>
<text x="591.6" y="477.1" font-size="12.3" fill="#cc1f3a" textLength="71.8" lengthAdjust="spacingAndGlyphs" stroke="#cc1f3a" stroke-width="0.3">1,500 (+29%)</text>
<text x="778.3" y="438.1" font-size="13.9" font-weight="700" fill="#000000" textLength="186.0" lengthAdjust="spacingAndGlyphs">13 countries/cities combined**</text>
<line x1="778" y1="451.70000000000005" x2="1020" y2="451.70000000000005" stroke="#e6d8cc" stroke-width="1"/>
<line x1="778" y1="503.80000000000007" x2="1020" y2="503.80000000000007" stroke="#e6d8cc" stroke-width="1"/>
<polygon points="823.2,484.6 825.6,482.6 830.5,475.3 834.1,466.4 837.8,454.3 842.6,451.9 847.4,457.9 847.4,496.5 842.6,495.0 837.8,491.0 834.1,489.9 830.5,488.6 825.6,486.4 823.2,488.6" fill="#ff6c68" fill-opacity="0.58"/>
<polyline points="787.6,477.8 793.0,478.5 800.2,480.2 807.5,481.6 813.5,483.3 816.0,485.0 819.6,495.4 822.0,491.3 824.4,485.8 829.3,488.2 834.1,489.9 839.0,491.3 843.8,496.2 848.7,496.7 853.5,496.7 858.3,498.6 866.8,501.0 875.3,501.0 880.1,503.4 885.0,502.0 889.8,503.4 901.9,502.0 911.6,502.7 918.9,502.2 926.2,502.7 933.4,503.4 940.7,505.1 945.5,503.4 955.2,502.7 962.5,501.5 969.8,500.3 974.6,500.3 984.3,498.6 994.0,496.7 1003.7,495.4 1013.3,493.8" fill="none" stroke="#5a5450" stroke-width="1.2" stroke-linejoin="round" stroke-linecap="round"/>
<polyline points="787.6,479.2 793.0,481.6 797.8,482.9 801.4,482.9 806.3,485.8 811.1,487.0 816.0,488.9 820.8,486.5 825.6,482.6 830.5,475.3 834.1,466.4 837.8,454.3 842.6,451.9 847.4,457.9" fill="none" stroke="#cc1f3a" stroke-width="2.1" stroke-linejoin="round" stroke-linecap="round"/>
<path d="M778.5,559.95 V555.95 H1020.1 V559.95 M838.5,555.95 V559.95" fill="none" stroke="#857c76" stroke-width="1.1"/>
<text x="1019.7" y="456.9" font-size="14.4" text-anchor="end" fill="#FFF1E5" stroke="#FFF1E5" stroke-width="1.8" stroke-linejoin="round">77,500</text>
<text x="1019.7" y="456.9" font-size="14.4" text-anchor="end" fill="#66605c" stroke="#66605c" stroke-width="0.25">77,500</text>
<text x="1019.7" y="509.0" font-size="14.4" text-anchor="end" fill="#FFF1E5" stroke="#FFF1E5" stroke-width="1.8" stroke-linejoin="round">38,750</text>
<text x="1019.7" y="509.0" font-size="14.4" text-anchor="end" fill="#66605c" stroke="#66605c" stroke-width="0.25">38,750</text>
<text x="1019.7" y="553.9" font-size="14.4" text-anchor="end" fill="#FFF1E5" stroke="#FFF1E5" stroke-width="1.8" stroke-linejoin="round">0</text>
<text x="1019.7" y="553.9" font-size="14.4" text-anchor="end" fill="#66605c" stroke="#66605c" stroke-width="0.25">0</text>
<text x="779.0" y="571.6" font-size="13.3" fill="#66605c" textLength="19.5" lengthAdjust="spacingAndGlyphs" stroke="#66605c" stroke-width="0.25">Jan</text>
<text x="839.0" y="571.6" font-size="13.3" fill="#66605c" textLength="21.3" lengthAdjust="spacingAndGlyphs" stroke="#66605c" stroke-width="0.25">Apr</text>
<text x="1020.3" y="571.6" font-size="13.3" text-anchor="end" fill="#66605c" textLength="23.3" lengthAdjust="spacingAndGlyphs" stroke="#66605c" stroke-width="0.25">Dec</text>
<text x="850.6" y="472.9" font-size="12.3" fill="#FFF1E5" stroke="#FFF1E5" stroke-width="3" stroke-linejoin="round" textLength="86.4" lengthAdjust="spacingAndGlyphs">114,100 (+49%)</text>
<text x="850.6" y="472.9" font-size="12.3" fill="#cc1f3a" textLength="86.4" lengthAdjust="spacingAndGlyphs" stroke="#cc1f3a" stroke-width="0.3">114,100 (+49%)</text>
<text x="1.0" y="593.1" font-size="10.1" fill="#66605c" textLength="276.7" lengthAdjust="spacingAndGlyphs" stroke="#66605c" stroke-width="0.2">Source: FT analysis of mortality data. Data updated April 26</text>
<text x="1.0" y="605.6" font-size="10.1" fill="#66605c" textLength="318.0" lengthAdjust="spacingAndGlyphs" stroke="#66605c" stroke-width="0.2">*Italian figures are for a subset of the country where data is available</text>
<text x="1.0" y="617.7" font-size="10.1" fill="#66605c" textLength="453.3" lengthAdjust="spacingAndGlyphs" stroke="#66605c" stroke-width="0.2">**Combined locations figure is only for weeks where all locations have reported mortality statistics</text>
<text x="1.0" y="629.8" font-size="10.1" fill="#66605c" textLength="231.7" lengthAdjust="spacingAndGlyphs" stroke="#66605c" stroke-width="0.2">FT graphic: John Burn-Murdoch / @jburnmurdoch</text>
<text x="1.0" y="641.8" font-size="10" fill="#66605c">&#169;</text>
<text x="13.2" y="641.8" font-size="10.3" font-style="italic" fill="#66605c">FT</text>
</svg></body></html>
